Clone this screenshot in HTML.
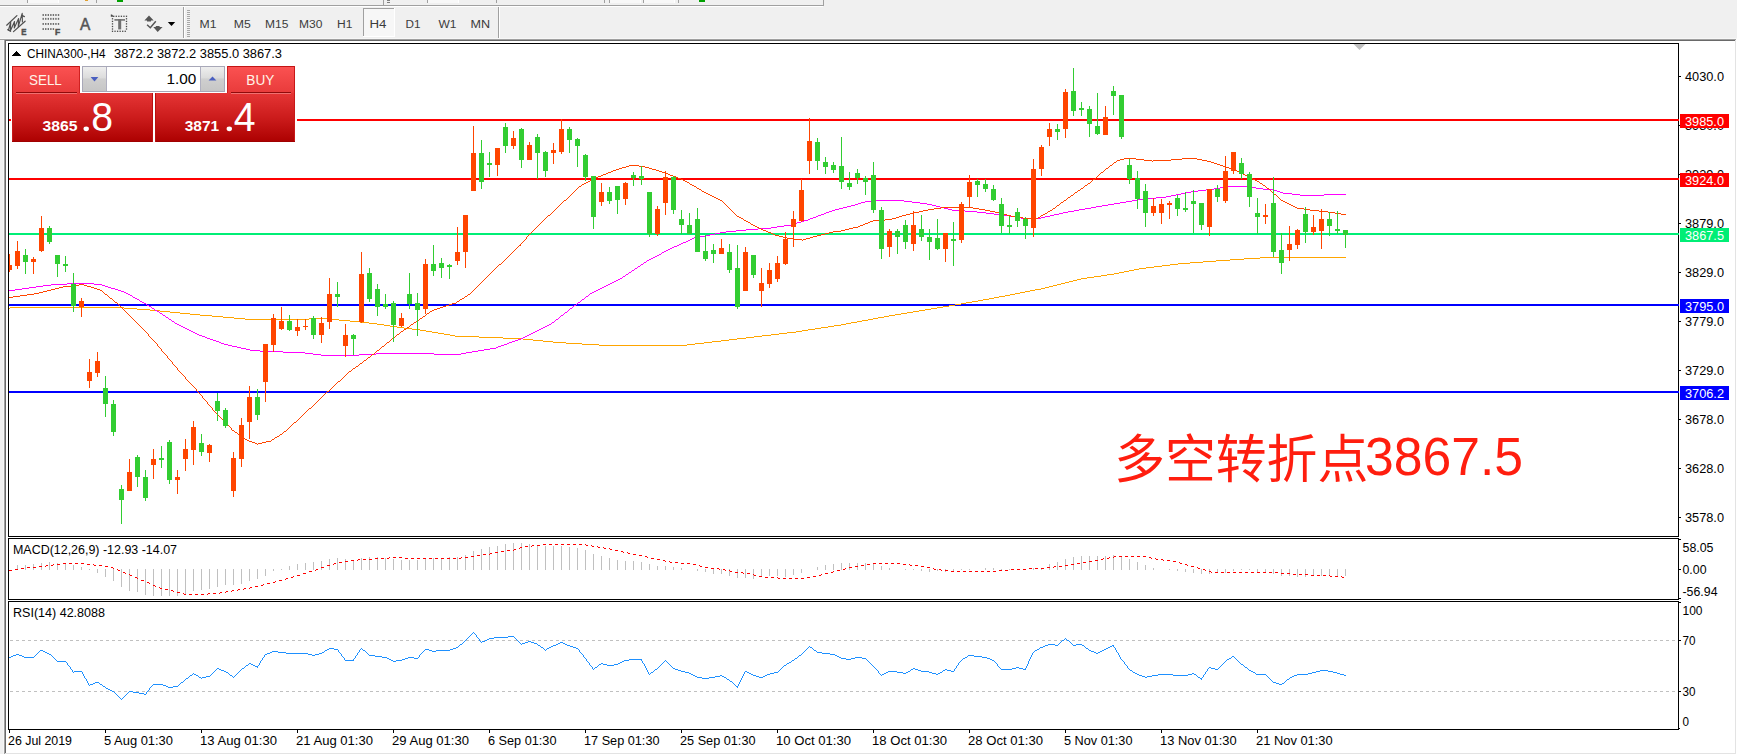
<!DOCTYPE html>
<html lang="zh"><head><meta charset="utf-8"><title>CHINA300-,H4</title>
<style>
html,body{margin:0;padding:0;background:#f0f0f0;overflow:hidden}
body{width:1737px;height:754px}
svg{display:block;font-family:"Liberation Sans","Noto Sans CJK SC",sans-serif}
svg rect{shape-rendering:crispEdges}
</style></head><body>
<svg width="1737" height="754" viewBox="0 0 1737 754">
<rect x="0" y="0" width="1737" height="754" fill="#f0f0f0"/>
<g id="topstrip">
<rect x="0" y="5" width="824" height="1" fill="#a0a0a0"/>
<rect x="0" y="6" width="823" height="1" fill="#ffffff"/>
<rect x="823" y="0" width="1" height="6" fill="#a0a0a0"/>
<rect x="27" y="0" width="31" height="3" fill="#f8f8f8"/>
<rect x="27" y="0" width="1" height="3" fill="#a0a0a0"/>
<rect x="58" y="0" width="1" height="3" fill="#ffffff"/>
<rect x="427" y="0" width="31" height="3" fill="#f8f8f8"/>
<rect x="427" y="0" width="1" height="3" fill="#a0a0a0"/>
<rect x="458" y="0" width="1" height="3" fill="#ffffff"/>
<rect x="609" y="0" width="31" height="3" fill="#f8f8f8"/>
<rect x="609" y="0" width="1" height="3" fill="#a0a0a0"/>
<rect x="640" y="0" width="1" height="3" fill="#ffffff"/>
<rect x="643" y="0" width="31" height="3" fill="#f8f8f8"/>
<rect x="643" y="0" width="1" height="3" fill="#a0a0a0"/>
<rect x="674" y="0" width="1" height="3" fill="#ffffff"/>
<rect x="96" y="0" width="1" height="3" fill="#a0a0a0"/>
<rect x="383" y="0" width="1" height="5" fill="#a0a0a0"/>
<rect x="496" y="0" width="1" height="3" fill="#a0a0a0"/>
<rect x="604" y="0" width="1" height="3" fill="#a0a0a0"/>
<rect x="678" y="0" width="1" height="3" fill="#a0a0a0"/>
<rect x="387" y="0" width="3" height="1" fill="#808080"/>
<rect x="387" y="2" width="3" height="1" fill="#808080"/>
<rect x="117" y="0" width="6" height="2" fill="#00a000"/>
<rect x="699" y="0" width="6" height="2" fill="#00a000"/>
<rect x="85" y="0" width="3" height="1" fill="#e0a030"/>
</g>
<g id="toolbar">
<g stroke="#505050" fill="none" stroke-linecap="round" stroke-linejoin="round"><path d="M6.7 25.2 L16.9 15.6" stroke-width="1.25"/><path d="M13.5 31.6 L25.1 21.2" stroke-width="1.25"/><path d="M8.4 30.1 L10.7 22.4 L10.3 31.1 L14.5 21.6 L14.3 27.9 L18.6 18.6 L18.3 26.7 L22.2 13.3 L22.4 22" stroke-width="1.15"/><path d="M7.8 29.6 L10.6 31.2" stroke-width="1.3"/><path d="M21.8 15.4 L24.4 16.6" stroke-width="1.3"/></g>
<text x="21.2" y="34.7" font-size="9" fill="#505050" textLength="5.2" lengthAdjust="spacingAndGlyphs" font-weight="bold" stroke="#505050" stroke-width="0.5">E</text>
<rect x="42.50" y="14.05" width="1.4" height="1.9" fill="#6a6a6a" shape-rendering="auto" style="shape-rendering:auto"/>
<rect x="45.05" y="14.05" width="1.4" height="1.9" fill="#6a6a6a" shape-rendering="auto" style="shape-rendering:auto"/>
<rect x="47.60" y="14.05" width="1.4" height="1.9" fill="#6a6a6a" shape-rendering="auto" style="shape-rendering:auto"/>
<rect x="50.15" y="14.05" width="1.4" height="1.9" fill="#6a6a6a" shape-rendering="auto" style="shape-rendering:auto"/>
<rect x="52.70" y="14.05" width="1.4" height="1.9" fill="#6a6a6a" shape-rendering="auto" style="shape-rendering:auto"/>
<rect x="55.25" y="14.05" width="1.4" height="1.9" fill="#6a6a6a" shape-rendering="auto" style="shape-rendering:auto"/>
<rect x="57.80" y="14.05" width="1.4" height="1.9" fill="#6a6a6a" shape-rendering="auto" style="shape-rendering:auto"/>
<rect x="42.50" y="17.90" width="1.4" height="1.9" fill="#6a6a6a" shape-rendering="auto" style="shape-rendering:auto"/>
<rect x="45.05" y="17.90" width="1.4" height="1.9" fill="#6a6a6a" shape-rendering="auto" style="shape-rendering:auto"/>
<rect x="47.60" y="17.90" width="1.4" height="1.9" fill="#6a6a6a" shape-rendering="auto" style="shape-rendering:auto"/>
<rect x="50.15" y="17.90" width="1.4" height="1.9" fill="#6a6a6a" shape-rendering="auto" style="shape-rendering:auto"/>
<rect x="52.70" y="17.90" width="1.4" height="1.9" fill="#6a6a6a" shape-rendering="auto" style="shape-rendering:auto"/>
<rect x="55.25" y="17.90" width="1.4" height="1.9" fill="#6a6a6a" shape-rendering="auto" style="shape-rendering:auto"/>
<rect x="57.80" y="17.90" width="1.4" height="1.9" fill="#6a6a6a" shape-rendering="auto" style="shape-rendering:auto"/>
<rect x="42.50" y="23.00" width="1.4" height="1.9" fill="#6a6a6a" shape-rendering="auto" style="shape-rendering:auto"/>
<rect x="45.05" y="23.00" width="1.4" height="1.9" fill="#6a6a6a" shape-rendering="auto" style="shape-rendering:auto"/>
<rect x="47.60" y="23.00" width="1.4" height="1.9" fill="#6a6a6a" shape-rendering="auto" style="shape-rendering:auto"/>
<rect x="50.15" y="23.00" width="1.4" height="1.9" fill="#6a6a6a" shape-rendering="auto" style="shape-rendering:auto"/>
<rect x="52.70" y="23.00" width="1.4" height="1.9" fill="#6a6a6a" shape-rendering="auto" style="shape-rendering:auto"/>
<rect x="55.25" y="23.00" width="1.4" height="1.9" fill="#6a6a6a" shape-rendering="auto" style="shape-rendering:auto"/>
<rect x="57.80" y="23.00" width="1.4" height="1.9" fill="#6a6a6a" shape-rendering="auto" style="shape-rendering:auto"/>
<rect x="42.50" y="28.10" width="1.4" height="1.9" fill="#6a6a6a" shape-rendering="auto" style="shape-rendering:auto"/>
<rect x="45.05" y="28.10" width="1.4" height="1.9" fill="#6a6a6a" shape-rendering="auto" style="shape-rendering:auto"/>
<rect x="47.60" y="28.10" width="1.4" height="1.9" fill="#6a6a6a" shape-rendering="auto" style="shape-rendering:auto"/>
<rect x="50.15" y="28.10" width="1.4" height="1.9" fill="#6a6a6a" shape-rendering="auto" style="shape-rendering:auto"/>
<rect x="52.70" y="28.10" width="1.4" height="1.9" fill="#6a6a6a" shape-rendering="auto" style="shape-rendering:auto"/>
<text x="55" y="34.7" font-size="9" fill="#505050" textLength="5.2" lengthAdjust="spacingAndGlyphs" font-weight="bold" stroke="#505050" stroke-width="0.5">F</text>
<text x="80" y="29.6" font-size="15.8" fill="#555" textLength="10.3" lengthAdjust="spacingAndGlyphs" stroke="#555" stroke-width="0.5">A</text>
<rect x="125.85" y="15.65" width="1.3" height="1.3" fill="#484848" style="shape-rendering:auto"/>
<rect x="123.30" y="15.65" width="1.3" height="1.3" fill="#484848" style="shape-rendering:auto"/>
<rect x="120.75" y="15.65" width="1.3" height="1.3" fill="#484848" style="shape-rendering:auto"/>
<rect x="118.20" y="15.65" width="1.3" height="1.3" fill="#484848" style="shape-rendering:auto"/>
<rect x="115.65" y="15.65" width="1.3" height="1.3" fill="#484848" style="shape-rendering:auto"/>
<rect x="113.10" y="15.65" width="1.3" height="1.3" fill="#484848" style="shape-rendering:auto"/>
<rect x="111.85" y="30.65" width="1.3" height="1.3" fill="#484848" style="shape-rendering:auto"/>
<rect x="114.40" y="30.65" width="1.3" height="1.3" fill="#484848" style="shape-rendering:auto"/>
<rect x="116.95" y="30.65" width="1.3" height="1.3" fill="#484848" style="shape-rendering:auto"/>
<rect x="119.50" y="30.65" width="1.3" height="1.3" fill="#484848" style="shape-rendering:auto"/>
<rect x="122.05" y="30.65" width="1.3" height="1.3" fill="#484848" style="shape-rendering:auto"/>
<rect x="124.60" y="30.65" width="1.3" height="1.3" fill="#484848" style="shape-rendering:auto"/>
<rect x="111.85" y="18.15" width="1.3" height="1.3" fill="#484848" style="shape-rendering:auto"/>
<rect x="125.85" y="18.15" width="1.3" height="1.3" fill="#484848" style="shape-rendering:auto"/>
<rect x="111.85" y="20.75" width="1.3" height="1.3" fill="#484848" style="shape-rendering:auto"/>
<rect x="125.85" y="20.75" width="1.3" height="1.3" fill="#484848" style="shape-rendering:auto"/>
<rect x="111.85" y="23.25" width="1.3" height="1.3" fill="#484848" style="shape-rendering:auto"/>
<rect x="125.85" y="23.25" width="1.3" height="1.3" fill="#484848" style="shape-rendering:auto"/>
<rect x="111.85" y="25.85" width="1.3" height="1.3" fill="#484848" style="shape-rendering:auto"/>
<rect x="125.85" y="25.85" width="1.3" height="1.3" fill="#484848" style="shape-rendering:auto"/>
<rect x="111.85" y="28.35" width="1.3" height="1.3" fill="#484848" style="shape-rendering:auto"/>
<rect x="125.85" y="28.35" width="1.3" height="1.3" fill="#484848" style="shape-rendering:auto"/>
<path d="M110.8 16.8 L110.8 14.6 L112 14.4 L113.9 16.8 Z" fill="#484848"/>
<rect x="114.4" y="19.1" width="10.6" height="1.6" fill="#707070" style="shape-rendering:auto"/>
<rect x="118.2" y="19.1" width="3" height="10.3" fill="#707070" style="shape-rendering:auto"/>
<g fill="#555"><path d="M149 15.4 L153.7 20.4 L151 20.4 L151 21.6 L147 21.6 L147 20.4 L144.4 20.4 Z"/><path d="M157.7 32 L153.3 27 L155.8 27 L155.8 26 L159.6 26 L159.6 27 L162.6 27 Z"/></g>
<path d="M147.1 24.8 L150.3 27.7 L155.8 21.2" stroke="#555" stroke-width="1.5" fill="none"/>
<path d="M167.8 22 L175.2 22 L171.5 25.9 Z" fill="#000"/>
<rect x="183" y="7" width="1" height="32" fill="#a0a0a0"/>
<rect x="184" y="7" width="1" height="32" fill="#ffffff"/>
<rect x="187" y="10" width="3" height="1" fill="#a8a8a8"/>
<rect x="187" y="12" width="3" height="1" fill="#a8a8a8"/>
<rect x="187" y="14" width="3" height="1" fill="#a8a8a8"/>
<rect x="187" y="16" width="3" height="1" fill="#a8a8a8"/>
<rect x="187" y="18" width="3" height="1" fill="#a8a8a8"/>
<rect x="187" y="20" width="3" height="1" fill="#a8a8a8"/>
<rect x="187" y="22" width="3" height="1" fill="#a8a8a8"/>
<rect x="187" y="24" width="3" height="1" fill="#a8a8a8"/>
<rect x="187" y="26" width="3" height="1" fill="#a8a8a8"/>
<rect x="187" y="28" width="3" height="1" fill="#a8a8a8"/>
<rect x="187" y="30" width="3" height="1" fill="#a8a8a8"/>
<rect x="187" y="32" width="3" height="1" fill="#a8a8a8"/>
<rect x="187" y="34" width="3" height="1" fill="#a8a8a8"/>
<rect x="187" y="36" width="3" height="1" fill="#a8a8a8"/>
<rect x="363" y="8" width="32" height="29" fill="#f7f7f7"/>
<rect x="363" y="8" width="32" height="1" fill="#a0a0a0"/>
<rect x="363" y="8" width="1" height="29" fill="#a0a0a0"/>
<rect x="394" y="8" width="1" height="29" fill="#ffffff"/>
<rect x="363" y="36" width="32" height="1" fill="#ffffff"/>
<text x="199.5" y="28.1" font-size="11.7" fill="#3c3c3c" textLength="17" lengthAdjust="spacingAndGlyphs">M1</text>
<text x="233.8" y="28.1" font-size="11.7" fill="#3c3c3c" textLength="17.0" lengthAdjust="spacingAndGlyphs">M5</text>
<text x="265.1" y="28.1" font-size="11.7" fill="#3c3c3c" textLength="23.4" lengthAdjust="spacingAndGlyphs">M15</text>
<text x="299.1" y="28.1" font-size="11.7" fill="#3c3c3c" textLength="23.4" lengthAdjust="spacingAndGlyphs">M30</text>
<text x="337.1" y="28.1" font-size="11.7" fill="#3c3c3c" textLength="15.4" lengthAdjust="spacingAndGlyphs">H1</text>
<text x="369.5" y="28.1" font-size="11.7" fill="#3c3c3c" textLength="17" lengthAdjust="spacingAndGlyphs">H4</text>
<text x="405.5" y="28.1" font-size="11.7" fill="#3c3c3c" textLength="15" lengthAdjust="spacingAndGlyphs">D1</text>
<text x="438.5" y="28.1" font-size="11.7" fill="#3c3c3c" textLength="18" lengthAdjust="spacingAndGlyphs">W1</text>
<text x="470.5" y="28.1" font-size="11.7" fill="#3c3c3c" textLength="19.6" lengthAdjust="spacingAndGlyphs">MN</text>
<rect x="498" y="7" width="1" height="32" fill="#a0a0a0"/>
<rect x="499" y="7" width="1" height="32" fill="#ffffff"/>
</g>
<rect x="0" y="38" width="1737" height="1" fill="#f7f7f7"/>
<rect x="0" y="39" width="4" height="1" fill="#a0a0a0"/>
<rect x="3" y="40" width="1" height="714" fill="#f6f6f6"/>
<rect x="4" y="39" width="1732" height="715" fill="#ffffff"/>
<rect x="4" y="39" width="1732" height="1" fill="#a0a0a0"/>
<rect x="4" y="39" width="1" height="715" fill="#a0a0a0"/>
<rect x="5" y="40" width="1730" height="1" fill="#696969"/>
<rect x="5" y="40" width="1" height="714" fill="#696969"/>
<rect x="1735" y="40" width="1" height="714" fill="#e3e3e3"/>
<rect x="1736" y="39" width="1" height="715" fill="#ffffff"/>
<rect x="5" y="753" width="1731" height="1" fill="#e3e3e3"/>
<rect x="8" y="43" width="1671" height="1" fill="#000"/>
<rect x="8" y="536" width="1671" height="1" fill="#000"/>
<rect x="8" y="43" width="1" height="494" fill="#000"/>
<rect x="1678" y="43" width="1" height="494" fill="#000"/>
<rect x="8" y="538" width="1671" height="1" fill="#000"/>
<rect x="8" y="599" width="1671" height="1" fill="#000"/>
<rect x="8" y="538" width="1" height="62" fill="#000"/>
<rect x="1678" y="538" width="1" height="62" fill="#000"/>
<rect x="8" y="601" width="1671" height="1" fill="#000"/>
<rect x="8" y="729" width="1671" height="1" fill="#000"/>
<rect x="8" y="601" width="1" height="129" fill="#000"/>
<rect x="1678" y="601" width="1" height="129" fill="#000"/>
<rect x="1679" y="76" width="2" height="1" fill="#000"/>
<text x="1685" y="81" font-size="12" fill="#000" textLength="39" lengthAdjust="spacingAndGlyphs">4030.0</text>
<rect x="1679" y="125" width="2" height="1" fill="#000"/>
<text x="1685" y="130" font-size="12" fill="#000" textLength="39" lengthAdjust="spacingAndGlyphs">3980.0</text>
<rect x="1679" y="174" width="2" height="1" fill="#000"/>
<text x="1685" y="179" font-size="12" fill="#000" textLength="39" lengthAdjust="spacingAndGlyphs">3929.0</text>
<rect x="1679" y="223" width="2" height="1" fill="#000"/>
<text x="1685" y="228" font-size="12" fill="#000" textLength="39" lengthAdjust="spacingAndGlyphs">3879.0</text>
<rect x="1679" y="272" width="2" height="1" fill="#000"/>
<text x="1685" y="277" font-size="12" fill="#000" textLength="39" lengthAdjust="spacingAndGlyphs">3829.0</text>
<rect x="1679" y="321" width="2" height="1" fill="#000"/>
<text x="1685" y="326" font-size="12" fill="#000" textLength="39" lengthAdjust="spacingAndGlyphs">3779.0</text>
<rect x="1679" y="370" width="2" height="1" fill="#000"/>
<text x="1685" y="375" font-size="12" fill="#000" textLength="39" lengthAdjust="spacingAndGlyphs">3729.0</text>
<rect x="1679" y="419" width="2" height="1" fill="#000"/>
<text x="1685" y="424" font-size="12" fill="#000" textLength="39" lengthAdjust="spacingAndGlyphs">3678.0</text>
<rect x="1679" y="468" width="2" height="1" fill="#000"/>
<text x="1685" y="473" font-size="12" fill="#000" textLength="39" lengthAdjust="spacingAndGlyphs">3628.0</text>
<rect x="1679" y="517" width="2" height="1" fill="#000"/>
<text x="1685" y="522" font-size="12" fill="#000" textLength="39" lengthAdjust="spacingAndGlyphs">3578.0</text>
<rect x="9" y="119" width="1670" height="2" fill="#ff0000"/>
<rect x="9" y="178" width="1670" height="2" fill="#ff0000"/>
<rect x="9" y="233" width="1670" height="2" fill="#00ee76"/>
<rect x="9" y="304" width="1670" height="2" fill="#0000ff"/>
<rect x="9" y="391" width="1670" height="2" fill="#0000ff"/>
<path d="M9 308h1v1h-1zM10 307h114v1h-114zM124 308h13v1h-13zM137 309h13v1h-13zM150 310h10v1h-10zM160 311h10v1h-10zM170 312h10v1h-10zM180 313h10v1h-10zM190 314h10v1h-10zM200 315h12v1h-12zM212 316h11v1h-11zM223 317h11v1h-11zM234 318h11v1h-11zM245 319h64v1h-64zM309 318h19v1h-19zM328 319h11v1h-11zM339 320h11v1h-11zM350 321h10v1h-10zM360 322h9v1h-9zM369 323h8v1h-8zM377 324h7v1h-7zM384 325h6v1h-6zM390 326h7v1h-7zM397 327h7v1h-7zM404 328h8v1h-8zM412 329h8v1h-8zM420 330h6v1h-6zM426 331h6v1h-6zM432 332h6v1h-6zM438 333h6v1h-6zM444 334h6v1h-6zM450 335h5v1h-5zM455 336h24v1h-24zM479 337h24v1h-24zM503 338h20v1h-20zM523 339h10v1h-10zM533 340h10v1h-10zM543 341h10v1h-10zM553 342h13v1h-13zM566 343h16v1h-16zM582 344h17v1h-17zM599 345h88v1h-88zM687 344h8v1h-8zM695 343h9v1h-9zM704 342h8v1h-8zM712 341h9v1h-9zM721 340h8v1h-8zM729 339h8v1h-8zM737 338h9v1h-9zM746 337h8v1h-8zM754 336h8v1h-8zM762 335h9v1h-9zM771 334h8v1h-8zM779 333h8v1h-8zM787 332h9v1h-9zM796 331h6v1h-6zM802 330h6v1h-6zM808 329h7v1h-7zM815 328h6v1h-6zM821 327h7v1h-7zM828 326h6v1h-6zM834 325h7v1h-7zM841 324h5v1h-5zM846 323h5v1h-5zM851 322h6v1h-6zM857 321h5v1h-5zM862 320h6v1h-6zM868 319h5v1h-5zM873 318h5v1h-5zM878 317h6v1h-6zM884 316h5v1h-5zM889 315h6v1h-6zM895 314h6v1h-6zM901 313h6v1h-6zM907 312h6v1h-6zM913 311h6v1h-6zM919 310h6v1h-6zM925 309h6v1h-6zM931 308h6v1h-6zM937 307h6v1h-6zM943 306h6v1h-6zM949 305h6v1h-6zM955 304h6v1h-6zM961 303h5v1h-5zM966 302h6v1h-6zM972 301h6v1h-6zM978 300h5v1h-5zM983 299h6v1h-6zM989 298h5v1h-5zM994 297h5v1h-5zM999 296h6v1h-6zM1005 295h5v1h-5zM1010 294h5v1h-5zM1015 293h5v1h-5zM1020 292h5v1h-5zM1025 291h5v1h-5zM1030 290h5v1h-5zM1035 289h6v1h-6zM1041 288h4v1h-4zM1045 287h4v1h-4zM1049 286h4v1h-4zM1053 285h4v1h-4zM1057 284h4v1h-4zM1061 283h4v1h-4zM1065 282h4v1h-4zM1069 281h4v1h-4zM1073 280h4v1h-4zM1077 279h4v1h-4zM1081 278h6v1h-6zM1087 277h7v1h-7zM1094 276h7v1h-7zM1101 275h6v1h-6zM1107 274h7v1h-7zM1114 273h5v1h-5zM1119 272h5v1h-5zM1124 271h5v1h-5zM1129 270h5v1h-5zM1134 269h5v1h-5zM1139 268h7v1h-7zM1146 267h8v1h-8zM1154 266h8v1h-8zM1162 265h8v1h-8zM1170 264h8v1h-8zM1178 263h12v1h-12zM1190 262h13v1h-13zM1203 261h13v1h-13zM1216 260h14v1h-14zM1230 259h14v1h-14zM1244 258h16v1h-16zM1260 257h86v1h-86z" fill="#ffa500" shape-rendering="crispEdges"/>
<path d="M9 290h6v1h-6zM15 289h7v1h-7zM22 288h7v1h-7zM29 287h7v1h-7zM36 286h7v1h-7zM43 285h8v1h-8zM51 284h16v1h-16zM67 283h27v1h-27zM94 284h8v1h-8zM102 285h3v1h-3zM105 286h3v1h-3zM108 287h3v1h-3zM111 288h4v1h-4zM115 289h3v1h-3zM118 290h3v1h-3zM121 291h3v1h-3zM124 292h2v1h-2zM126 293h2v1h-2zM128 294h2v1h-2zM130 295h2v1h-2zM132 296h1v1h-1zM133 297h2v1h-2zM135 298h2v1h-2zM137 299h2v1h-2zM139 300h1v1h-1zM140 301h2v1h-2zM142 302h2v1h-2zM144 303h2v1h-2zM146 304h1v1h-1zM147 305h2v1h-2zM149 306h2v1h-2zM151 307h1v1h-1zM152 308h2v1h-2zM154 309h1v1h-1zM155 310h2v1h-2zM157 311h2v1h-2zM159 312h1v1h-1zM160 313h2v1h-2zM162 314h1v1h-1zM163 315h2v1h-2zM165 316h1v1h-1zM166 317h2v1h-2zM168 318h1v1h-1zM169 319h2v1h-2zM171 320h1v1h-1zM172 321h2v1h-2zM174 322h1v1h-1zM175 323h2v1h-2zM177 324h2v1h-2zM179 325h2v1h-2zM181 326h2v1h-2zM183 327h2v1h-2zM185 328h2v1h-2zM187 329h2v1h-2zM189 330h2v1h-2zM191 331h2v1h-2zM193 332h2v1h-2zM195 333h2v1h-2zM197 334h2v1h-2zM199 335h3v1h-3zM202 336h3v1h-3zM205 337h2v1h-2zM207 338h3v1h-3zM210 339h3v1h-3zM213 340h3v1h-3zM216 341h3v1h-3zM219 342h2v1h-2zM221 343h3v1h-3zM224 344h4v1h-4zM228 345h4v1h-4zM232 346h5v1h-5zM237 347h4v1h-4zM241 348h5v1h-5zM246 349h4v1h-4zM250 350h10v1h-10zM260 351h23v1h-23zM283 352h22v1h-22zM305 353h8v1h-8zM313 354h8v1h-8zM321 355h38v1h-38zM359 354h17v1h-17zM376 353h58v1h-58zM434 354h27v1h-27zM461 353h5v1h-5zM466 352h6v1h-6zM472 351h6v1h-6zM478 350h6v1h-6zM484 349h6v1h-6zM490 348h6v1h-6zM496 347h2v1h-2zM498 346h3v1h-3zM501 345h3v1h-3zM504 344h3v1h-3zM507 343h2v1h-2zM509 342h3v1h-3zM512 341h3v1h-3zM515 340h3v1h-3zM518 339h3v1h-3zM521 338h2v1h-2zM523 337h2v1h-2zM525 336h2v1h-2zM527 335h2v1h-2zM529 334h2v1h-2zM531 333h2v1h-2zM533 332h2v1h-2zM535 331h2v1h-2zM537 330h2v1h-2zM539 329h2v1h-2zM541 328h2v1h-2zM543 327h2v1h-2zM545 326h2v1h-2zM547 325h2v1h-2zM549 324h2v1h-2zM551 323h1v1h-1zM552 322h2v1h-2zM554 321h1v1h-1zM555 320h1v1h-1zM556 319h2v1h-2zM558 318h1v1h-1zM559 317h1v1h-1zM560 316h1v1h-1zM561 315h2v1h-2zM563 314h1v1h-1zM564 313h1v1h-1zM565 312h2v1h-2zM567 311h1v1h-1zM568 310h1v1h-1zM569 309h1v1h-1zM570 308h2v1h-2zM572 307h1v1h-1zM573 306h1v1h-1zM574 305h2v1h-2zM576 304h1v1h-1zM577 303h1v1h-1zM578 302h2v1h-2zM580 301h1v1h-1zM581 300h1v1h-1zM582 299h2v1h-2zM584 298h1v1h-1zM585 297h1v1h-1zM586 296h2v1h-2zM588 295h1v1h-1zM589 294h1v1h-1zM590 293h2v1h-2zM592 292h2v1h-2zM594 291h2v1h-2zM596 290h2v1h-2zM598 289h2v1h-2zM600 288h2v1h-2zM602 287h2v1h-2zM604 286h2v1h-2zM606 285h2v1h-2zM608 284h2v1h-2zM610 283h2v1h-2zM612 282h2v1h-2zM614 281h2v1h-2zM616 280h2v1h-2zM618 279h2v1h-2zM620 278h2v1h-2zM622 277h1v1h-1zM623 276h2v1h-2zM625 275h1v1h-1zM626 274h2v1h-2zM628 273h1v1h-1zM629 272h2v1h-2zM631 271h1v1h-1zM632 270h2v1h-2zM634 269h1v1h-1zM635 268h2v1h-2zM637 267h1v1h-1zM638 266h2v1h-2zM640 265h1v1h-1zM641 264h2v1h-2zM643 263h1v1h-1zM644 262h2v1h-2zM646 261h1v1h-1zM647 260h2v1h-2zM649 259h2v1h-2zM651 258h2v1h-2zM653 257h2v1h-2zM655 256h2v1h-2zM657 255h2v1h-2zM659 254h2v1h-2zM661 253h1v1h-1zM662 252h2v1h-2zM664 251h2v1h-2zM666 250h2v1h-2zM668 249h2v1h-2zM670 248h2v1h-2zM672 247h2v1h-2zM674 246h3v1h-3zM677 245h2v1h-2zM679 244h2v1h-2zM681 243h2v1h-2zM683 242h3v1h-3zM686 241h2v1h-2zM688 240h2v1h-2zM690 239h2v1h-2zM692 238h2v1h-2zM694 237h5v1h-5zM699 236h6v1h-6zM705 235h5v1h-5zM710 234h5v1h-5zM715 233h5v1h-5zM720 232h6v1h-6zM726 231h10v1h-10zM736 230h10v1h-10zM746 229h12v1h-12zM758 228h13v1h-13zM771 227h6v1h-6zM777 226h7v1h-7zM784 225h7v1h-7zM791 224h3v1h-3zM794 223h3v1h-3zM797 222h4v1h-4zM801 221h3v1h-3zM804 220h4v1h-4zM808 219h2v1h-2zM810 218h3v1h-3zM813 217h3v1h-3zM816 216h2v1h-2zM818 215h3v1h-3zM821 214h3v1h-3zM824 213h2v1h-2zM826 212h3v1h-3zM829 211h3v1h-3zM832 210h3v1h-3zM835 209h4v1h-4zM839 208h4v1h-4zM843 207h4v1h-4zM847 206h4v1h-4zM851 205h4v1h-4zM855 204h3v1h-3zM858 203h3v1h-3zM861 202h4v1h-4zM865 201h9v1h-9zM874 200h30v1h-30zM904 201h8v1h-8zM912 202h8v1h-8zM920 203h7v1h-7zM927 204h5v1h-5zM932 205h4v1h-4zM936 206h4v1h-4zM940 207h4v1h-4zM944 208h4v1h-4zM948 209h4v1h-4zM952 210h13v1h-13zM965 211h12v1h-12zM977 212h9v1h-9zM986 213h8v1h-8zM994 214h8v1h-8zM1002 215h7v1h-7zM1009 216h6v1h-6zM1015 217h6v1h-6zM1021 218h6v1h-6zM1027 219h1v1h-1zM1028 218h13v1h-13zM1041 217h4v1h-4zM1045 216h5v1h-5zM1050 215h4v1h-4zM1054 214h5v1h-5zM1059 213h4v1h-4zM1063 212h5v1h-5zM1068 211h6v1h-6zM1074 210h5v1h-5zM1079 209h6v1h-6zM1085 208h6v1h-6zM1091 207h5v1h-5zM1096 206h6v1h-6zM1102 205h6v1h-6zM1108 204h6v1h-6zM1114 203h6v1h-6zM1120 202h6v1h-6zM1126 201h6v1h-6zM1132 200h6v1h-6zM1138 199h8v1h-8zM1146 198h10v1h-10zM1156 197h10v1h-10zM1166 196h5v1h-5zM1171 195h5v1h-5zM1176 194h5v1h-5zM1181 193h5v1h-5zM1186 192h5v1h-5zM1191 191h7v1h-7zM1198 190h8v1h-8zM1206 189h8v1h-8zM1214 188h6v1h-6zM1220 187h6v1h-6zM1226 186h25v1h-25zM1251 187h5v1h-5zM1256 188h7v1h-7zM1263 189h11v1h-11zM1274 190h3v1h-3zM1277 191h3v1h-3zM1280 192h3v1h-3zM1283 193h9v1h-9zM1292 194h8v1h-8zM1300 195h24v1h-24zM1324 194h22v1h-22z" fill="#ff00ff" shape-rendering="crispEdges"/>
<path d="M9 297h4v1h-4zM13 296h7v1h-7zM20 295h7v1h-7zM27 294h7v1h-7zM34 293h5v1h-5zM39 292h4v1h-4zM43 291h4v1h-4zM47 290h4v1h-4zM51 289h4v1h-4zM55 288h4v1h-4zM59 287h4v1h-4zM63 286h8v1h-8zM71 285h8v1h-8zM79 284h5v1h-5zM84 285h3v1h-3zM87 286h4v1h-4zM91 287h3v1h-3zM94 288h3v1h-3zM97 289h3v1h-3zM100 290h2v1h-2zM102 291h1v1h-1zM103 292h1v1h-1zM104 293h1v1h-1zM105 294h2v1h-2zM107 295h1v1h-1zM108 296h1v1h-1zM109 297h1v1h-1zM110 298h2v1h-2zM112 299h1v1h-1zM113 300h1v1h-1zM114 301h1v1h-1zM115 302h2v1h-2zM117 303h1v1h-1zM118 304h1v1h-1zM119 305h1v1h-1zM120 306h1v1h-1zM121 307h1v1h-1zM122 308h1v1h-1zM123 309h1v1h-1zM124 310h1v1h-1zM125 311h1v1h-1zM126 312h1v1h-1zM127 313h1v1h-1zM128 314h1v1h-1zM129 315h1v1h-1zM130 316h1v1h-1zM131 317h1v1h-1zM132 318h1v1h-1zM133 319h1v1h-1zM134 320h1v1h-1zM135 321h1v1h-1zM136 322h1v1h-1zM137 323h1v1h-1zM138 324h1v1h-1zM139 325h1v1h-1zM140 326h1v1h-1zM141 327h1v1h-1zM142 328h1v1h-1zM143 329h1v1h-1zM144 330h1v1h-1zM145 331h1v1h-1zM146 332h1v1h-1zM147 333h1v1h-1zM148 334h1v2h-1zM149 336h1v1h-1zM150 337h1v1h-1zM151 338h1v1h-1zM152 339h1v1h-1zM153 340h1v1h-1zM154 341h1v1h-1zM155 342h1v1h-1zM156 343h1v1h-1zM157 344h1v2h-1zM158 346h1v1h-1zM159 347h1v1h-1zM160 348h1v1h-1zM161 349h1v2h-1zM162 351h1v1h-1zM163 352h1v1h-1zM164 353h1v1h-1zM165 354h1v1h-1zM166 355h1v1h-1zM167 356h1v2h-1zM168 358h1v1h-1zM169 359h1v1h-1zM170 360h1v1h-1zM171 361h1v1h-1zM172 362h1v2h-1zM173 364h1v1h-1zM174 365h1v1h-1zM175 366h1v1h-1zM176 367h1v1h-1zM177 368h1v2h-1zM178 370h1v1h-1zM179 371h1v1h-1zM180 372h1v1h-1zM181 373h1v1h-1zM182 374h1v1h-1zM183 375h1v1h-1zM184 376h1v1h-1zM185 377h1v2h-1zM186 379h1v1h-1zM187 380h1v1h-1zM188 381h1v1h-1zM189 382h1v1h-1zM190 383h1v1h-1zM191 384h1v1h-1zM192 385h1v1h-1zM193 386h1v1h-1zM194 387h1v1h-1zM195 388h1v1h-1zM196 389h1v2h-1zM197 391h1v1h-1zM198 392h1v1h-1zM199 393h1v1h-1zM200 394h1v1h-1zM201 395h1v1h-1zM202 396h1v2h-1zM203 398h1v1h-1zM204 399h1v1h-1zM205 400h1v1h-1zM206 401h1v1h-1zM207 402h1v2h-1zM208 404h1v1h-1zM209 405h1v1h-1zM210 406h1v1h-1zM211 407h1v1h-1zM212 408h1v2h-1zM213 410h1v1h-1zM214 411h1v1h-1zM215 412h1v1h-1zM216 413h1v1h-1zM217 414h1v1h-1zM218 415h1v1h-1zM219 416h1v1h-1zM220 417h1v1h-1zM221 418h1v1h-1zM222 419h1v1h-1zM223 420h1v1h-1zM224 421h1v1h-1zM225 422h1v1h-1zM226 423h1v1h-1zM227 424h1v1h-1zM228 425h1v1h-1zM229 426h1v1h-1zM230 427h1v1h-1zM231 428h1v2h-1zM232 430h2v1h-2zM234 431h1v1h-1zM235 432h2v1h-2zM237 433h1v1h-1zM238 434h1v1h-1zM239 435h2v1h-2zM241 436h1v1h-1zM242 437h1v1h-1zM243 438h2v1h-2zM245 439h2v1h-2zM247 440h2v1h-2zM249 441h3v1h-3zM252 442h3v1h-3zM255 443h2v1h-2zM257 444h1v1h-1zM258 443h4v1h-4zM262 442h4v1h-4zM266 441h5v1h-5zM271 440h1v1h-1zM272 439h2v1h-2zM274 438h1v1h-1zM275 437h2v1h-2zM277 436h2v1h-2zM279 435h1v1h-1zM280 434h2v1h-2zM282 433h1v1h-1zM283 432h1v1h-1zM284 431h2v1h-2zM286 430h1v1h-1zM287 429h1v1h-1zM288 428h1v1h-1zM289 427h1v1h-1zM290 426h1v1h-1zM291 425h1v1h-1zM292 424h1v1h-1zM293 423h1v1h-1zM294 422h2v1h-2zM296 421h1v1h-1zM297 420h1v1h-1zM298 419h1v1h-1zM299 418h1v1h-1zM300 417h1v1h-1zM301 416h1v1h-1zM302 415h1v1h-1zM303 414h1v1h-1zM304 413h1v1h-1zM305 412h1v1h-1zM306 411h1v1h-1zM307 410h1v1h-1zM308 409h1v1h-1zM309 408h2v1h-2zM311 407h1v1h-1zM312 406h1v1h-1zM313 405h1v1h-1zM314 404h1v1h-1zM315 403h1v1h-1zM316 402h1v1h-1zM317 401h1v1h-1zM318 400h1v1h-1zM319 399h1v1h-1zM320 398h1v1h-1zM321 397h1v1h-1zM322 396h1v1h-1zM323 395h1v1h-1zM324 394h1v1h-1zM325 393h1v1h-1zM326 392h1v1h-1zM327 391h2v1h-2zM329 390h1v1h-1zM330 389h1v1h-1zM331 388h1v1h-1zM332 387h1v1h-1zM333 386h1v1h-1zM334 385h1v1h-1zM335 384h1v1h-1zM336 383h1v1h-1zM337 382h1v1h-1zM338 381h2v1h-2zM340 380h1v1h-1zM341 379h1v1h-1zM342 378h1v1h-1zM343 377h1v1h-1zM344 376h1v1h-1zM345 375h1v1h-1zM346 374h1v1h-1zM347 373h1v1h-1zM348 372h1v1h-1zM349 371h2v1h-2zM351 370h1v1h-1zM352 369h1v1h-1zM353 368h2v1h-2zM355 367h1v1h-1zM356 366h2v1h-2zM358 365h1v1h-1zM359 364h1v1h-1zM360 363h2v1h-2zM362 362h1v1h-1zM363 361h1v1h-1zM364 360h2v1h-2zM366 359h1v1h-1zM367 358h1v1h-1zM368 357h2v1h-2zM370 356h1v1h-1zM371 355h1v1h-1zM372 354h2v1h-2zM374 353h1v1h-1zM375 352h1v1h-1zM376 351h1v1h-1zM377 350h2v1h-2zM379 349h1v1h-1zM380 348h1v1h-1zM381 347h1v1h-1zM382 346h2v1h-2zM384 345h1v1h-1zM385 344h1v1h-1zM386 343h1v1h-1zM387 342h2v1h-2zM389 341h1v1h-1zM390 340h1v1h-1zM391 339h1v1h-1zM392 338h2v1h-2zM394 337h1v1h-1zM395 336h1v1h-1zM396 335h1v1h-1zM397 334h2v1h-2zM399 333h1v1h-1zM400 332h1v1h-1zM401 331h2v1h-2zM403 330h1v1h-1zM404 329h2v1h-2zM406 328h1v1h-1zM407 327h2v1h-2zM409 326h1v1h-1zM410 325h1v1h-1zM411 324h2v1h-2zM413 323h1v1h-1zM414 322h2v1h-2zM416 321h1v1h-1zM417 320h2v1h-2zM419 319h1v1h-1zM420 318h2v1h-2zM422 317h1v1h-1zM423 316h2v1h-2zM425 315h1v1h-1zM426 314h1v1h-1zM427 313h2v1h-2zM429 312h1v1h-1zM430 311h2v1h-2zM432 310h2v1h-2zM434 309h3v1h-3zM437 308h3v1h-3zM440 307h3v1h-3zM443 306h3v1h-3zM446 305h3v1h-3zM449 304h3v1h-3zM452 303h4v1h-4zM456 302h1v1h-1zM457 301h2v1h-2zM459 300h1v1h-1zM460 299h2v1h-2zM462 298h2v1h-2zM464 297h1v1h-1zM465 296h2v1h-2zM467 295h1v1h-1zM468 294h2v1h-2zM470 293h1v1h-1zM471 292h1v1h-1zM472 291h1v1h-1zM473 290h1v1h-1zM474 289h1v1h-1zM475 288h1v1h-1zM476 287h1v1h-1zM477 286h1v1h-1zM478 285h1v1h-1zM479 284h1v1h-1zM480 283h1v1h-1zM481 282h1v1h-1zM482 281h1v1h-1zM483 280h1v1h-1zM484 279h1v1h-1zM485 278h1v1h-1zM486 277h1v1h-1zM487 276h1v1h-1zM488 275h1v1h-1zM489 274h1v1h-1zM490 273h1v1h-1zM491 272h1v1h-1zM492 271h1v1h-1zM493 270h1v1h-1zM494 269h1v1h-1zM495 268h1v1h-1zM496 267h1v1h-1zM497 266h1v1h-1zM498 265h1v1h-1zM499 264h2v1h-2zM501 263h1v1h-1zM502 262h1v1h-1zM503 261h1v1h-1zM504 260h1v1h-1zM505 259h1v1h-1zM506 258h1v1h-1zM507 257h1v1h-1zM508 256h1v1h-1zM509 255h1v1h-1zM510 254h1v1h-1zM511 253h1v1h-1zM512 252h1v1h-1zM513 251h1v1h-1zM514 250h1v1h-1zM515 249h1v1h-1zM516 248h1v1h-1zM517 247h1v1h-1zM518 246h1v1h-1zM519 245h1v1h-1zM520 244h1v2h-1zM521 243h1v1h-1zM522 242h1v1h-1zM523 241h1v1h-1zM524 240h1v1h-1zM525 239h1v1h-1zM526 237h1v2h-1zM527 236h1v1h-1zM528 235h1v1h-1zM529 234h1v1h-1zM530 233h1v1h-1zM531 232h1v1h-1zM532 231h1v1h-1zM533 230h1v1h-1zM534 229h1v1h-1zM535 228h1v1h-1zM536 227h1v1h-1zM537 226h1v1h-1zM538 225h1v1h-1zM539 224h1v1h-1zM540 223h1v1h-1zM541 222h1v1h-1zM542 221h1v1h-1zM543 220h1v1h-1zM544 219h1v1h-1zM545 218h1v1h-1zM546 217h1v1h-1zM547 216h1v1h-1zM548 215h2v1h-2zM550 214h1v1h-1zM551 213h1v1h-1zM552 212h1v1h-1zM553 211h1v1h-1zM554 210h1v1h-1zM555 209h1v1h-1zM556 208h1v1h-1zM557 207h1v1h-1zM558 206h1v1h-1zM559 205h1v1h-1zM560 204h1v1h-1zM561 203h1v1h-1zM562 202h1v1h-1zM563 201h1v1h-1zM564 200h2v1h-2zM566 199h1v1h-1zM567 198h1v1h-1zM568 197h1v1h-1zM569 196h1v1h-1zM570 195h1v1h-1zM571 194h1v1h-1zM572 193h1v1h-1zM573 192h1v1h-1zM574 191h1v1h-1zM575 190h1v1h-1zM576 189h1v1h-1zM577 188h1v1h-1zM578 187h1v1h-1zM579 186h2v1h-2zM581 185h1v1h-1zM582 184h2v1h-2zM584 183h2v1h-2zM586 182h2v1h-2zM588 181h2v1h-2zM590 180h2v1h-2zM592 179h2v1h-2zM594 178h2v1h-2zM596 177h2v1h-2zM598 176h3v1h-3zM601 175h2v1h-2zM603 174h3v1h-3zM606 173h2v1h-2zM608 172h3v1h-3zM611 171h2v1h-2zM613 170h3v1h-3zM616 169h3v1h-3zM619 168h3v1h-3zM622 167h4v1h-4zM626 166h3v1h-3zM629 165h10v1h-10zM639 166h6v1h-6zM645 167h4v1h-4zM649 168h3v1h-3zM652 169h4v1h-4zM656 170h3v1h-3zM659 171h3v1h-3zM662 172h3v1h-3zM665 173h3v1h-3zM668 174h2v1h-2zM670 175h3v1h-3zM673 176h3v1h-3zM676 177h2v1h-2zM678 178h3v1h-3zM681 179h2v1h-2zM683 180h2v1h-2zM685 181h2v1h-2zM687 182h2v1h-2zM689 183h1v1h-1zM690 184h2v1h-2zM692 185h2v1h-2zM694 186h2v1h-2zM696 187h1v1h-1zM697 188h2v1h-2zM699 189h2v1h-2zM701 190h1v1h-1zM702 191h2v1h-2zM704 192h2v1h-2zM706 193h2v1h-2zM708 194h2v1h-2zM710 195h2v1h-2zM712 196h2v1h-2zM714 197h2v1h-2zM716 198h2v1h-2zM718 199h2v1h-2zM720 200h2v1h-2zM722 201h1v1h-1zM723 202h1v1h-1zM724 203h1v1h-1zM725 204h1v1h-1zM726 205h1v1h-1zM727 206h1v1h-1zM728 207h1v1h-1zM729 208h1v1h-1zM730 209h1v1h-1zM731 210h1v1h-1zM732 211h1v1h-1zM733 212h1v1h-1zM734 213h1v1h-1zM735 214h1v1h-1zM736 215h1v1h-1zM737 216h2v1h-2zM739 217h2v1h-2zM741 218h2v1h-2zM743 219h1v1h-1zM744 220h2v1h-2zM746 221h2v1h-2zM748 222h2v1h-2zM750 223h1v1h-1zM751 224h2v1h-2zM753 225h2v1h-2zM755 226h2v1h-2zM757 227h2v1h-2zM759 228h2v1h-2zM761 229h2v1h-2zM763 230h3v1h-3zM766 231h2v1h-2zM768 232h3v1h-3zM771 233h2v1h-2zM773 234h2v1h-2zM775 235h4v1h-4zM779 236h4v1h-4zM783 237h4v1h-4zM787 238h6v1h-6zM793 239h9v1h-9zM802 240h1v1h-1zM803 239h3v1h-3zM806 238h4v1h-4zM810 237h3v1h-3zM813 236h4v1h-4zM817 235h4v1h-4zM821 234h4v1h-4zM825 233h4v1h-4zM829 232h4v1h-4zM833 231h8v1h-8zM841 230h4v1h-4zM845 229h4v1h-4zM849 228h4v1h-4zM853 227h5v1h-5zM858 226h2v1h-2zM860 225h3v1h-3zM863 224h2v1h-2zM865 223h3v1h-3zM868 222h2v1h-2zM870 221h3v1h-3zM873 220h12v1h-12zM885 219h7v1h-7zM892 218h4v1h-4zM896 217h3v1h-3zM899 216h3v1h-3zM902 215h4v1h-4zM906 214h4v1h-4zM910 213h4v1h-4zM914 212h5v1h-5zM919 211h4v1h-4zM923 210h5v1h-5zM928 209h6v1h-6zM934 208h7v1h-7zM941 207h32v1h-32zM973 208h6v1h-6zM979 209h6v1h-6zM985 210h5v1h-5zM990 211h5v1h-5zM995 212h4v1h-4zM999 213h4v1h-4zM1003 214h4v1h-4zM1007 215h4v1h-4zM1011 216h4v1h-4zM1015 217h8v1h-8zM1023 218h8v1h-8zM1031 219h5v1h-5zM1036 218h2v1h-2zM1038 217h2v1h-2zM1040 216h1v1h-1zM1041 215h2v1h-2zM1043 214h2v1h-2zM1045 213h2v1h-2zM1047 212h1v1h-1zM1048 211h2v1h-2zM1050 210h2v1h-2zM1052 209h1v1h-1zM1053 208h2v1h-2zM1055 207h1v1h-1zM1056 206h1v1h-1zM1057 205h2v1h-2zM1059 204h1v1h-1zM1060 203h1v1h-1zM1061 202h2v1h-2zM1063 201h1v1h-1zM1064 200h2v1h-2zM1066 199h1v1h-1zM1067 198h1v1h-1zM1068 197h2v1h-2zM1070 196h1v1h-1zM1071 195h2v1h-2zM1073 194h1v1h-1zM1074 193h1v1h-1zM1075 192h2v1h-2zM1077 191h1v1h-1zM1078 190h2v1h-2zM1080 189h1v1h-1zM1081 188h2v1h-2zM1083 187h1v1h-1zM1084 186h1v1h-1zM1085 185h2v1h-2zM1087 184h1v1h-1zM1088 183h2v1h-2zM1090 182h1v1h-1zM1091 181h1v1h-1zM1092 180h1v1h-1zM1093 179h2v1h-2zM1095 178h1v1h-1zM1096 177h1v1h-1zM1097 176h1v1h-1zM1098 175h1v1h-1zM1099 174h1v1h-1zM1100 173h1v1h-1zM1101 172h2v1h-2zM1103 171h1v1h-1zM1104 170h1v1h-1zM1105 169h1v1h-1zM1106 168h2v1h-2zM1108 167h1v1h-1zM1109 166h1v1h-1zM1110 165h2v1h-2zM1112 164h1v1h-1zM1113 163h1v1h-1zM1114 162h2v1h-2zM1116 161h1v1h-1zM1117 160h3v1h-3zM1120 159h4v1h-4zM1124 158h12v1h-12zM1136 159h8v1h-8zM1144 160h8v1h-8zM1152 161h1v1h-1zM1153 160h18v1h-18zM1171 159h11v1h-11zM1182 158h15v1h-15zM1197 159h5v1h-5zM1202 160h5v1h-5zM1207 161h4v1h-4zM1211 162h3v1h-3zM1214 163h3v1h-3zM1217 164h3v1h-3zM1220 165h3v1h-3zM1223 166h3v1h-3zM1226 167h3v1h-3zM1229 168h2v1h-2zM1231 169h3v1h-3zM1234 170h3v1h-3zM1237 171h2v1h-2zM1239 172h2v1h-2zM1241 173h2v1h-2zM1243 174h2v1h-2zM1245 175h2v1h-2zM1247 176h2v1h-2zM1249 177h2v1h-2zM1251 178h2v1h-2zM1253 179h2v1h-2zM1255 180h2v1h-2zM1257 181h2v1h-2zM1259 182h1v1h-1zM1260 183h2v1h-2zM1262 184h1v1h-1zM1263 185h2v1h-2zM1265 186h1v1h-1zM1266 187h1v1h-1zM1267 188h2v1h-2zM1269 189h1v1h-1zM1270 190h1v1h-1zM1271 191h1v1h-1zM1272 192h1v1h-1zM1273 193h1v1h-1zM1274 194h2v1h-2zM1276 195h1v1h-1zM1277 196h1v1h-1zM1278 197h1v1h-1zM1279 198h1v1h-1zM1280 199h1v1h-1zM1281 200h2v1h-2zM1283 201h2v1h-2zM1285 202h2v1h-2zM1287 203h2v1h-2zM1289 204h2v1h-2zM1291 205h2v1h-2zM1293 206h2v1h-2zM1295 207h2v1h-2zM1297 208h7v1h-7zM1304 209h6v1h-6zM1310 210h9v1h-9zM1319 211h9v1h-9zM1328 212h7v1h-7zM1335 213h6v1h-6zM1341 214h5v1h-5z" fill="#ff4500" shape-rendering="crispEdges"/>
<g id="candles" shape-rendering="crispEdges">
<rect x="9" y="254" width="1" height="18" fill="#ff4500"/>
<rect x="9" y="265" width="3" height="5" fill="#ff4500"/>
<rect x="17" y="241" width="1" height="28" fill="#ff4500"/>
<rect x="15" y="251" width="5" height="15" fill="#ff4500"/>
<rect x="25" y="249" width="1" height="25" fill="#32cd32"/>
<rect x="23" y="255" width="5" height="7" fill="#32cd32"/>
<rect x="33" y="257" width="1" height="17" fill="#ff4500"/>
<rect x="31" y="259" width="5" height="3" fill="#ff4500"/>
<rect x="41" y="216" width="1" height="36" fill="#ff4500"/>
<rect x="39" y="228" width="5" height="23" fill="#ff4500"/>
<rect x="49" y="226" width="1" height="18" fill="#32cd32"/>
<rect x="47" y="228" width="5" height="14" fill="#32cd32"/>
<rect x="57" y="255" width="1" height="22" fill="#32cd32"/>
<rect x="55" y="255" width="5" height="9" fill="#32cd32"/>
<rect x="65" y="256" width="1" height="16" fill="#32cd32"/>
<rect x="63" y="264" width="5" height="2" fill="#32cd32"/>
<rect x="73" y="273" width="1" height="39" fill="#32cd32"/>
<rect x="71" y="284" width="5" height="22" fill="#32cd32"/>
<rect x="81" y="298" width="1" height="19" fill="#ff4500"/>
<rect x="79" y="301" width="5" height="6" fill="#ff4500"/>
<rect x="89" y="359" width="1" height="29" fill="#ff4500"/>
<rect x="87" y="372" width="5" height="9" fill="#ff4500"/>
<rect x="97" y="352" width="1" height="25" fill="#ff4500"/>
<rect x="95" y="361" width="5" height="12" fill="#ff4500"/>
<rect x="105" y="376" width="1" height="41" fill="#32cd32"/>
<rect x="103" y="388" width="5" height="16" fill="#32cd32"/>
<rect x="113" y="400" width="1" height="36" fill="#32cd32"/>
<rect x="111" y="404" width="5" height="28" fill="#32cd32"/>
<rect x="121" y="485" width="1" height="39" fill="#32cd32"/>
<rect x="119" y="489" width="5" height="11" fill="#32cd32"/>
<rect x="129" y="459" width="1" height="32" fill="#ff4500"/>
<rect x="127" y="472" width="5" height="19" fill="#ff4500"/>
<rect x="137" y="455" width="1" height="32" fill="#32cd32"/>
<rect x="135" y="457" width="5" height="20" fill="#32cd32"/>
<rect x="145" y="470" width="1" height="31" fill="#32cd32"/>
<rect x="143" y="477" width="5" height="21" fill="#32cd32"/>
<rect x="153" y="449" width="1" height="30" fill="#ff4500"/>
<rect x="151" y="459" width="5" height="6" fill="#ff4500"/>
<rect x="161" y="446" width="1" height="22" fill="#32cd32"/>
<rect x="159" y="458" width="5" height="2" fill="#32cd32"/>
<rect x="169" y="440" width="1" height="44" fill="#32cd32"/>
<rect x="167" y="442" width="5" height="38" fill="#32cd32"/>
<rect x="177" y="470" width="1" height="24" fill="#ff4500"/>
<rect x="175" y="477" width="5" height="3" fill="#ff4500"/>
<rect x="185" y="439" width="1" height="32" fill="#ff4500"/>
<rect x="183" y="449" width="5" height="10" fill="#ff4500"/>
<rect x="193" y="421" width="1" height="44" fill="#ff4500"/>
<rect x="191" y="427" width="5" height="23" fill="#ff4500"/>
<rect x="201" y="434" width="1" height="22" fill="#32cd32"/>
<rect x="199" y="443" width="5" height="9" fill="#32cd32"/>
<rect x="209" y="444" width="1" height="18" fill="#ff4500"/>
<rect x="207" y="445" width="5" height="8" fill="#ff4500"/>
<rect x="217" y="393" width="1" height="28" fill="#32cd32"/>
<rect x="215" y="401" width="5" height="10" fill="#32cd32"/>
<rect x="225" y="408" width="1" height="20" fill="#32cd32"/>
<rect x="223" y="410" width="5" height="16" fill="#32cd32"/>
<rect x="233" y="452" width="1" height="45" fill="#ff4500"/>
<rect x="231" y="458" width="5" height="33" fill="#ff4500"/>
<rect x="241" y="418" width="1" height="49" fill="#ff4500"/>
<rect x="239" y="425" width="5" height="34" fill="#ff4500"/>
<rect x="249" y="386" width="1" height="53" fill="#ff4500"/>
<rect x="247" y="397" width="5" height="25" fill="#ff4500"/>
<rect x="257" y="389" width="1" height="31" fill="#32cd32"/>
<rect x="255" y="397" width="5" height="18" fill="#32cd32"/>
<rect x="265" y="344" width="1" height="58" fill="#ff4500"/>
<rect x="263" y="344" width="5" height="38" fill="#ff4500"/>
<rect x="273" y="314" width="1" height="38" fill="#ff4500"/>
<rect x="271" y="318" width="5" height="27" fill="#ff4500"/>
<rect x="281" y="307" width="1" height="23" fill="#ff4500"/>
<rect x="279" y="321" width="5" height="8" fill="#ff4500"/>
<rect x="289" y="315" width="1" height="16" fill="#32cd32"/>
<rect x="287" y="321" width="5" height="9" fill="#32cd32"/>
<rect x="297" y="319" width="1" height="17" fill="#ff4500"/>
<rect x="295" y="327" width="5" height="4" fill="#ff4500"/>
<rect x="305" y="319" width="1" height="11" fill="#ff4500"/>
<rect x="303" y="326" width="5" height="1" fill="#ff4500"/>
<rect x="313" y="316" width="1" height="23" fill="#32cd32"/>
<rect x="311" y="318" width="5" height="17" fill="#32cd32"/>
<rect x="321" y="317" width="1" height="26" fill="#ff4500"/>
<rect x="319" y="323" width="5" height="12" fill="#ff4500"/>
<rect x="329" y="278" width="1" height="51" fill="#ff4500"/>
<rect x="327" y="294" width="5" height="28" fill="#ff4500"/>
<rect x="337" y="282" width="1" height="25" fill="#32cd32"/>
<rect x="335" y="294" width="5" height="3" fill="#32cd32"/>
<rect x="345" y="324" width="1" height="33" fill="#ff4500"/>
<rect x="343" y="335" width="5" height="11" fill="#ff4500"/>
<rect x="353" y="334" width="1" height="21" fill="#32cd32"/>
<rect x="351" y="335" width="5" height="4" fill="#32cd32"/>
<rect x="361" y="252" width="1" height="71" fill="#ff4500"/>
<rect x="359" y="274" width="5" height="48" fill="#ff4500"/>
<rect x="369" y="268" width="1" height="34" fill="#32cd32"/>
<rect x="367" y="273" width="5" height="26" fill="#32cd32"/>
<rect x="377" y="284" width="1" height="32" fill="#32cd32"/>
<rect x="375" y="289" width="5" height="18" fill="#32cd32"/>
<rect x="385" y="294" width="1" height="15" fill="#32cd32"/>
<rect x="383" y="304" width="5" height="3" fill="#32cd32"/>
<rect x="393" y="301" width="1" height="41" fill="#32cd32"/>
<rect x="391" y="303" width="5" height="22" fill="#32cd32"/>
<rect x="401" y="313" width="1" height="14" fill="#ff4500"/>
<rect x="399" y="318" width="5" height="8" fill="#ff4500"/>
<rect x="409" y="273" width="1" height="36" fill="#32cd32"/>
<rect x="407" y="294" width="5" height="10" fill="#32cd32"/>
<rect x="417" y="293" width="1" height="43" fill="#32cd32"/>
<rect x="415" y="303" width="5" height="7" fill="#32cd32"/>
<rect x="425" y="259" width="1" height="55" fill="#ff4500"/>
<rect x="423" y="264" width="5" height="45" fill="#ff4500"/>
<rect x="433" y="245" width="1" height="31" fill="#32cd32"/>
<rect x="431" y="264" width="5" height="7" fill="#32cd32"/>
<rect x="441" y="258" width="1" height="20" fill="#32cd32"/>
<rect x="439" y="263" width="5" height="5" fill="#32cd32"/>
<rect x="449" y="264" width="1" height="15" fill="#32cd32"/>
<rect x="447" y="265" width="5" height="2" fill="#32cd32"/>
<rect x="457" y="227" width="1" height="38" fill="#ff4500"/>
<rect x="455" y="252" width="5" height="9" fill="#ff4500"/>
<rect x="465" y="215" width="1" height="53" fill="#ff4500"/>
<rect x="463" y="215" width="5" height="37" fill="#ff4500"/>
<rect x="473" y="126" width="1" height="65" fill="#ff4500"/>
<rect x="471" y="153" width="5" height="38" fill="#ff4500"/>
<rect x="481" y="140" width="1" height="49" fill="#32cd32"/>
<rect x="479" y="153" width="5" height="29" fill="#32cd32"/>
<rect x="489" y="152" width="1" height="25" fill="#32cd32"/>
<rect x="487" y="163" width="5" height="2" fill="#32cd32"/>
<rect x="497" y="148" width="1" height="28" fill="#ff4500"/>
<rect x="495" y="148" width="5" height="17" fill="#ff4500"/>
<rect x="505" y="123" width="1" height="30" fill="#32cd32"/>
<rect x="503" y="127" width="5" height="19" fill="#32cd32"/>
<rect x="513" y="131" width="1" height="18" fill="#ff4500"/>
<rect x="511" y="138" width="5" height="8" fill="#ff4500"/>
<rect x="521" y="128" width="1" height="40" fill="#32cd32"/>
<rect x="519" y="129" width="5" height="31" fill="#32cd32"/>
<rect x="529" y="142" width="1" height="18" fill="#ff4500"/>
<rect x="527" y="145" width="5" height="15" fill="#ff4500"/>
<rect x="537" y="134" width="1" height="45" fill="#32cd32"/>
<rect x="535" y="137" width="5" height="16" fill="#32cd32"/>
<rect x="545" y="151" width="1" height="26" fill="#32cd32"/>
<rect x="543" y="152" width="5" height="19" fill="#32cd32"/>
<rect x="553" y="143" width="1" height="21" fill="#ff4500"/>
<rect x="551" y="150" width="5" height="3" fill="#ff4500"/>
<rect x="561" y="119" width="1" height="35" fill="#ff4500"/>
<rect x="559" y="129" width="5" height="23" fill="#ff4500"/>
<rect x="569" y="127" width="1" height="26" fill="#32cd32"/>
<rect x="567" y="129" width="5" height="11" fill="#32cd32"/>
<rect x="577" y="138" width="1" height="29" fill="#32cd32"/>
<rect x="575" y="139" width="5" height="7" fill="#32cd32"/>
<rect x="585" y="154" width="1" height="27" fill="#32cd32"/>
<rect x="583" y="155" width="5" height="22" fill="#32cd32"/>
<rect x="593" y="176" width="1" height="53" fill="#32cd32"/>
<rect x="591" y="176" width="5" height="41" fill="#32cd32"/>
<rect x="601" y="183" width="1" height="23" fill="#ff4500"/>
<rect x="599" y="192" width="5" height="10" fill="#ff4500"/>
<rect x="609" y="187" width="1" height="17" fill="#32cd32"/>
<rect x="607" y="192" width="5" height="9" fill="#32cd32"/>
<rect x="617" y="186" width="1" height="28" fill="#32cd32"/>
<rect x="615" y="186" width="5" height="14" fill="#32cd32"/>
<rect x="625" y="182" width="1" height="23" fill="#ff4500"/>
<rect x="623" y="183" width="5" height="16" fill="#ff4500"/>
<rect x="633" y="172" width="1" height="14" fill="#32cd32"/>
<rect x="631" y="175" width="5" height="3" fill="#32cd32"/>
<rect x="641" y="166" width="1" height="19" fill="#32cd32"/>
<rect x="639" y="176" width="5" height="3" fill="#32cd32"/>
<rect x="649" y="192" width="1" height="45" fill="#32cd32"/>
<rect x="647" y="192" width="5" height="42" fill="#32cd32"/>
<rect x="657" y="206" width="1" height="30" fill="#ff4500"/>
<rect x="655" y="209" width="5" height="25" fill="#ff4500"/>
<rect x="665" y="171" width="1" height="44" fill="#ff4500"/>
<rect x="663" y="177" width="5" height="26" fill="#ff4500"/>
<rect x="673" y="176" width="1" height="38" fill="#32cd32"/>
<rect x="671" y="177" width="5" height="33" fill="#32cd32"/>
<rect x="681" y="210" width="1" height="24" fill="#32cd32"/>
<rect x="679" y="219" width="5" height="6" fill="#32cd32"/>
<rect x="689" y="213" width="1" height="21" fill="#32cd32"/>
<rect x="687" y="225" width="5" height="9" fill="#32cd32"/>
<rect x="697" y="208" width="1" height="44" fill="#32cd32"/>
<rect x="695" y="219" width="5" height="33" fill="#32cd32"/>
<rect x="705" y="235" width="1" height="26" fill="#32cd32"/>
<rect x="703" y="251" width="5" height="8" fill="#32cd32"/>
<rect x="713" y="244" width="1" height="19" fill="#32cd32"/>
<rect x="711" y="250" width="5" height="4" fill="#32cd32"/>
<rect x="721" y="239" width="1" height="15" fill="#ff4500"/>
<rect x="719" y="248" width="5" height="6" fill="#ff4500"/>
<rect x="729" y="244" width="1" height="29" fill="#32cd32"/>
<rect x="727" y="252" width="5" height="18" fill="#32cd32"/>
<rect x="737" y="245" width="1" height="64" fill="#32cd32"/>
<rect x="735" y="268" width="5" height="39" fill="#32cd32"/>
<rect x="745" y="247" width="1" height="44" fill="#ff4500"/>
<rect x="743" y="252" width="5" height="39" fill="#ff4500"/>
<rect x="753" y="255" width="1" height="23" fill="#32cd32"/>
<rect x="751" y="255" width="5" height="20" fill="#32cd32"/>
<rect x="761" y="268" width="1" height="39" fill="#ff4500"/>
<rect x="759" y="283" width="5" height="8" fill="#ff4500"/>
<rect x="769" y="263" width="1" height="25" fill="#ff4500"/>
<rect x="767" y="270" width="5" height="14" fill="#ff4500"/>
<rect x="777" y="256" width="1" height="26" fill="#ff4500"/>
<rect x="775" y="263" width="5" height="16" fill="#ff4500"/>
<rect x="785" y="232" width="1" height="33" fill="#ff4500"/>
<rect x="783" y="239" width="5" height="25" fill="#ff4500"/>
<rect x="793" y="211" width="1" height="36" fill="#ff4500"/>
<rect x="791" y="219" width="5" height="8" fill="#ff4500"/>
<rect x="801" y="179" width="1" height="43" fill="#ff4500"/>
<rect x="799" y="190" width="5" height="31" fill="#ff4500"/>
<rect x="809" y="118" width="1" height="56" fill="#ff4500"/>
<rect x="807" y="141" width="5" height="20" fill="#ff4500"/>
<rect x="817" y="138" width="1" height="32" fill="#32cd32"/>
<rect x="815" y="142" width="5" height="19" fill="#32cd32"/>
<rect x="825" y="157" width="1" height="17" fill="#32cd32"/>
<rect x="823" y="162" width="5" height="5" fill="#32cd32"/>
<rect x="833" y="162" width="1" height="11" fill="#32cd32"/>
<rect x="831" y="165" width="5" height="5" fill="#32cd32"/>
<rect x="841" y="137" width="1" height="52" fill="#32cd32"/>
<rect x="839" y="166" width="5" height="16" fill="#32cd32"/>
<rect x="849" y="172" width="1" height="18" fill="#32cd32"/>
<rect x="847" y="183" width="5" height="4" fill="#32cd32"/>
<rect x="857" y="169" width="1" height="15" fill="#32cd32"/>
<rect x="855" y="173" width="5" height="5" fill="#32cd32"/>
<rect x="865" y="176" width="1" height="19" fill="#32cd32"/>
<rect x="863" y="178" width="5" height="4" fill="#32cd32"/>
<rect x="873" y="162" width="1" height="51" fill="#32cd32"/>
<rect x="871" y="175" width="5" height="35" fill="#32cd32"/>
<rect x="881" y="207" width="1" height="52" fill="#32cd32"/>
<rect x="879" y="210" width="5" height="39" fill="#32cd32"/>
<rect x="889" y="229" width="1" height="28" fill="#ff4500"/>
<rect x="887" y="231" width="5" height="16" fill="#ff4500"/>
<rect x="897" y="229" width="1" height="25" fill="#32cd32"/>
<rect x="895" y="231" width="5" height="6" fill="#32cd32"/>
<rect x="905" y="220" width="1" height="29" fill="#32cd32"/>
<rect x="903" y="225" width="5" height="17" fill="#32cd32"/>
<rect x="913" y="211" width="1" height="40" fill="#ff4500"/>
<rect x="911" y="225" width="5" height="19" fill="#ff4500"/>
<rect x="921" y="215" width="1" height="26" fill="#32cd32"/>
<rect x="919" y="229" width="5" height="8" fill="#32cd32"/>
<rect x="929" y="229" width="1" height="31" fill="#32cd32"/>
<rect x="927" y="237" width="5" height="5" fill="#32cd32"/>
<rect x="937" y="219" width="1" height="31" fill="#32cd32"/>
<rect x="935" y="238" width="5" height="11" fill="#32cd32"/>
<rect x="945" y="233" width="1" height="29" fill="#ff4500"/>
<rect x="943" y="233" width="5" height="16" fill="#ff4500"/>
<rect x="953" y="222" width="1" height="44" fill="#32cd32"/>
<rect x="951" y="239" width="5" height="2" fill="#32cd32"/>
<rect x="961" y="202" width="1" height="41" fill="#ff4500"/>
<rect x="959" y="204" width="5" height="36" fill="#ff4500"/>
<rect x="969" y="175" width="1" height="32" fill="#ff4500"/>
<rect x="967" y="182" width="5" height="15" fill="#ff4500"/>
<rect x="977" y="179" width="1" height="18" fill="#32cd32"/>
<rect x="975" y="181" width="5" height="4" fill="#32cd32"/>
<rect x="985" y="179" width="1" height="13" fill="#32cd32"/>
<rect x="983" y="184" width="5" height="5" fill="#32cd32"/>
<rect x="993" y="185" width="1" height="16" fill="#32cd32"/>
<rect x="991" y="189" width="5" height="11" fill="#32cd32"/>
<rect x="1001" y="198" width="1" height="35" fill="#32cd32"/>
<rect x="999" y="204" width="5" height="22" fill="#32cd32"/>
<rect x="1009" y="216" width="1" height="18" fill="#32cd32"/>
<rect x="1007" y="225" width="5" height="2" fill="#32cd32"/>
<rect x="1017" y="208" width="1" height="19" fill="#32cd32"/>
<rect x="1015" y="212" width="5" height="9" fill="#32cd32"/>
<rect x="1025" y="217" width="1" height="22" fill="#32cd32"/>
<rect x="1023" y="219" width="5" height="7" fill="#32cd32"/>
<rect x="1033" y="159" width="1" height="78" fill="#ff4500"/>
<rect x="1031" y="169" width="5" height="59" fill="#ff4500"/>
<rect x="1041" y="145" width="1" height="31" fill="#ff4500"/>
<rect x="1039" y="147" width="5" height="22" fill="#ff4500"/>
<rect x="1049" y="123" width="1" height="23" fill="#ff4500"/>
<rect x="1047" y="129" width="5" height="8" fill="#ff4500"/>
<rect x="1057" y="124" width="1" height="16" fill="#32cd32"/>
<rect x="1055" y="129" width="5" height="3" fill="#32cd32"/>
<rect x="1065" y="89" width="1" height="49" fill="#ff4500"/>
<rect x="1063" y="92" width="5" height="37" fill="#ff4500"/>
<rect x="1073" y="68" width="1" height="48" fill="#32cd32"/>
<rect x="1071" y="91" width="5" height="20" fill="#32cd32"/>
<rect x="1081" y="102" width="1" height="14" fill="#32cd32"/>
<rect x="1079" y="108" width="5" height="2" fill="#32cd32"/>
<rect x="1089" y="106" width="1" height="31" fill="#32cd32"/>
<rect x="1087" y="109" width="5" height="15" fill="#32cd32"/>
<rect x="1097" y="93" width="1" height="42" fill="#32cd32"/>
<rect x="1095" y="126" width="5" height="8" fill="#32cd32"/>
<rect x="1105" y="106" width="1" height="29" fill="#ff4500"/>
<rect x="1103" y="117" width="5" height="18" fill="#ff4500"/>
<rect x="1113" y="86" width="1" height="29" fill="#32cd32"/>
<rect x="1111" y="91" width="5" height="5" fill="#32cd32"/>
<rect x="1121" y="95" width="1" height="44" fill="#32cd32"/>
<rect x="1119" y="95" width="5" height="42" fill="#32cd32"/>
<rect x="1129" y="159" width="1" height="25" fill="#32cd32"/>
<rect x="1127" y="165" width="5" height="14" fill="#32cd32"/>
<rect x="1137" y="171" width="1" height="38" fill="#32cd32"/>
<rect x="1135" y="178" width="5" height="21" fill="#32cd32"/>
<rect x="1145" y="184" width="1" height="43" fill="#32cd32"/>
<rect x="1143" y="191" width="5" height="22" fill="#32cd32"/>
<rect x="1153" y="198" width="1" height="18" fill="#ff4500"/>
<rect x="1151" y="206" width="5" height="7" fill="#ff4500"/>
<rect x="1161" y="199" width="1" height="25" fill="#ff4500"/>
<rect x="1159" y="204" width="5" height="9" fill="#ff4500"/>
<rect x="1169" y="201" width="1" height="18" fill="#ff4500"/>
<rect x="1167" y="203" width="5" height="2" fill="#ff4500"/>
<rect x="1177" y="195" width="1" height="21" fill="#32cd32"/>
<rect x="1175" y="198" width="5" height="11" fill="#32cd32"/>
<rect x="1185" y="192" width="1" height="20" fill="#32cd32"/>
<rect x="1183" y="208" width="5" height="2" fill="#32cd32"/>
<rect x="1193" y="190" width="1" height="43" fill="#32cd32"/>
<rect x="1191" y="201" width="5" height="3" fill="#32cd32"/>
<rect x="1201" y="203" width="1" height="27" fill="#32cd32"/>
<rect x="1199" y="203" width="5" height="22" fill="#32cd32"/>
<rect x="1209" y="189" width="1" height="47" fill="#ff4500"/>
<rect x="1207" y="189" width="5" height="38" fill="#ff4500"/>
<rect x="1217" y="185" width="1" height="17" fill="#32cd32"/>
<rect x="1215" y="189" width="5" height="8" fill="#32cd32"/>
<rect x="1225" y="156" width="1" height="47" fill="#ff4500"/>
<rect x="1223" y="171" width="5" height="30" fill="#ff4500"/>
<rect x="1233" y="152" width="1" height="22" fill="#ff4500"/>
<rect x="1231" y="152" width="5" height="19" fill="#ff4500"/>
<rect x="1241" y="158" width="1" height="21" fill="#32cd32"/>
<rect x="1239" y="163" width="5" height="11" fill="#32cd32"/>
<rect x="1249" y="172" width="1" height="35" fill="#32cd32"/>
<rect x="1247" y="174" width="5" height="23" fill="#32cd32"/>
<rect x="1257" y="198" width="1" height="36" fill="#32cd32"/>
<rect x="1255" y="213" width="5" height="4" fill="#32cd32"/>
<rect x="1265" y="204" width="1" height="20" fill="#ff4500"/>
<rect x="1263" y="215" width="5" height="2" fill="#ff4500"/>
<rect x="1273" y="177" width="1" height="80" fill="#32cd32"/>
<rect x="1271" y="203" width="5" height="49" fill="#32cd32"/>
<rect x="1281" y="233" width="1" height="41" fill="#32cd32"/>
<rect x="1279" y="250" width="5" height="13" fill="#32cd32"/>
<rect x="1289" y="226" width="1" height="35" fill="#ff4500"/>
<rect x="1287" y="244" width="5" height="6" fill="#ff4500"/>
<rect x="1297" y="229" width="1" height="20" fill="#ff4500"/>
<rect x="1295" y="230" width="5" height="15" fill="#ff4500"/>
<rect x="1305" y="207" width="1" height="36" fill="#32cd32"/>
<rect x="1303" y="214" width="5" height="18" fill="#32cd32"/>
<rect x="1313" y="215" width="1" height="20" fill="#ff4500"/>
<rect x="1311" y="227" width="5" height="5" fill="#ff4500"/>
<rect x="1321" y="209" width="1" height="40" fill="#ff4500"/>
<rect x="1319" y="219" width="5" height="12" fill="#ff4500"/>
<rect x="1329" y="212" width="1" height="24" fill="#32cd32"/>
<rect x="1327" y="219" width="5" height="7" fill="#32cd32"/>
<rect x="1337" y="211" width="1" height="23" fill="#32cd32"/>
<rect x="1335" y="229" width="5" height="2" fill="#32cd32"/>
<rect x="1345" y="230" width="1" height="18" fill="#32cd32"/>
<rect x="1343" y="230" width="5" height="5" fill="#32cd32"/>
</g>
<rect x="1680" y="114" width="49" height="14" fill="#ff0000"/>
<text x="1685" y="126" font-size="12" fill="#fff" textLength="39" lengthAdjust="spacingAndGlyphs">3985.0</text>
<rect x="1680" y="173" width="49" height="14" fill="#ff0000"/>
<text x="1685" y="185" font-size="12" fill="#fff" textLength="39" lengthAdjust="spacingAndGlyphs">3924.0</text>
<rect x="1680" y="228" width="49" height="14" fill="#00ee76"/>
<text x="1685" y="240" font-size="12" fill="#fff" textLength="39" lengthAdjust="spacingAndGlyphs">3867.5</text>
<rect x="1680" y="299" width="49" height="14" fill="#0000ff"/>
<text x="1685" y="311" font-size="12" fill="#fff" textLength="39" lengthAdjust="spacingAndGlyphs">3795.0</text>
<rect x="1680" y="386" width="49" height="14" fill="#0000ff"/>
<text x="1685" y="398" font-size="12" fill="#fff" textLength="39" lengthAdjust="spacingAndGlyphs">3706.2</text>
<path d="M1353.5 44 L1365.5 44 L1359.5 50 Z" fill="#c0c0c0"/>
<path d="M12 56 L21 56 L16.5 51 Z" fill="#000" shape-rendering="crispEdges"/>
<text x="27" y="58" font-size="12" fill="#000" textLength="78.5" lengthAdjust="spacingAndGlyphs">CHINA300-,H4</text>
<text x="114" y="58" font-size="12" fill="#000" textLength="168" lengthAdjust="spacingAndGlyphs">3872.2 3872.2 3855.0 3867.3</text>
<defs>
<linearGradient id="gTab" x1="0" y1="0" x2="0" y2="1"><stop offset="0" stop-color="#fb5252"/><stop offset="1" stop-color="#e83a3a"/></linearGradient>
<linearGradient id="gBot" x1="0" y1="0" x2="0" y2="1"><stop offset="0" stop-color="#e53535"/><stop offset="0.5" stop-color="#cc1c1c"/><stop offset="1" stop-color="#ac0000"/></linearGradient>
<linearGradient id="gBtn" x1="0" y1="0" x2="0" y2="1"><stop offset="0" stop-color="#eeeeee"/><stop offset="0.45" stop-color="#dcdcdc"/><stop offset="0.5" stop-color="#cfcfcf"/><stop offset="1" stop-color="#c6c6c6"/></linearGradient>
</defs>
<rect x="11" y="65" width="286" height="78" fill="#ffffff"/>
<rect x="12" y="66" width="68" height="28" fill="url(#gTab)"/>
<rect x="227" y="66" width="68" height="28" fill="url(#gTab)"/>
<rect x="12" y="93" width="141" height="49" fill="url(#gBot)"/>
<rect x="155" y="93" width="140" height="49" fill="url(#gBot)"/>
<rect x="12" y="66" width="68" height="1" fill="#c41414"/>
<rect x="227" y="66" width="68" height="1" fill="#c41414"/>
<rect x="12" y="66" width="1" height="76" fill="#c81818"/>
<rect x="294" y="66" width="1" height="76" fill="#c81818"/>
<rect x="79" y="66" width="1" height="27" fill="#d02020"/>
<rect x="227" y="66" width="1" height="27" fill="#d02020"/>
<rect x="12" y="141" width="141" height="1" fill="#a00000"/>
<rect x="155" y="141" width="140" height="1" fill="#a00000"/>
<rect x="152" y="93" width="1" height="49" fill="#b81010"/>
<rect x="155" y="93" width="1" height="49" fill="#b81010"/>
<rect x="16" y="92" width="61" height="1" fill="#8f0a0a"/>
<rect x="16" y="93" width="61" height="1" fill="#f07070"/>
<rect x="231" y="92" width="60" height="1" fill="#8f0a0a"/>
<rect x="231" y="93" width="60" height="1" fill="#f07070"/>
<text x="29" y="84.7" font-size="15.3" fill="#fff4e8" textLength="32.8" lengthAdjust="spacingAndGlyphs">SELL</text>
<text x="246.3" y="84.7" font-size="15.3" fill="#fff4e8" textLength="28" lengthAdjust="spacingAndGlyphs">BUY</text>
<rect x="81" y="66" width="145" height="26" fill="#ffffff"/>
<rect x="82" y="66" width="143" height="1" fill="#a8a8b8"/>
<rect x="82" y="91" width="143" height="1" fill="#a8a8b8"/>
<rect x="82" y="66" width="1" height="26" fill="#a8a8b8"/>
<rect x="224" y="66" width="1" height="26" fill="#a8a8b8"/>
<rect x="83" y="67" width="23" height="24" fill="url(#gBtn)"/>
<rect x="106" y="67" width="1" height="24" fill="#b0b0c0"/>
<rect x="201" y="67" width="23" height="24" fill="url(#gBtn)"/>
<rect x="200" y="67" width="1" height="24" fill="#b0b0c0"/>
<path d="M90.6 77 L98.4 77 L94.5 81.4 Z" fill="#4a5fc0"/>
<path d="M208.6 80.6 L216.4 80.6 L212.5 76.4 Z" fill="#4a5fc0"/>
<text x="166.6" y="84" font-size="15.3" fill="#000" textLength="29.8" lengthAdjust="spacingAndGlyphs">1.00</text>
<text x="42.4" y="131" font-size="14" fill="#fff" textLength="35" lengthAdjust="spacingAndGlyphs" font-weight="bold">3865</text>
<ellipse cx="86.2" cy="128.8" rx="2.7" ry="2.4" fill="#fff"/>
<text x="91.2" y="131" font-size="41.5" fill="#fff" textLength="21.8" lengthAdjust="spacingAndGlyphs">8</text>
<text x="184.7" y="131" font-size="14" fill="#fff" textLength="34.5" lengthAdjust="spacingAndGlyphs" font-weight="bold">3871</text>
<ellipse cx="229.3" cy="128.8" rx="2.7" ry="2.4" fill="#fff"/>
<text x="233.8" y="131" font-size="41.5" fill="#fff" textLength="21.8" lengthAdjust="spacingAndGlyphs">4</text>
<text x="1114.2" y="477.5" font-size="52.6" fill="#ff1e0f" textLength="254" lengthAdjust="spacingAndGlyphs" font-family='"Liberation Sans","Noto Sans CJK SC",sans-serif'>多空转折点</text>
<text x="1365" y="474.8" font-size="54" fill="#ff1e0f" textLength="158" lengthAdjust="spacingAndGlyphs" font-family='"Liberation Sans","Noto Sans CJK SC",sans-serif'>3867.5</text>
<g id="macd" shape-rendering="crispEdges">
<rect x="17" y="565" width="1" height="5" fill="#c0c0c0"/>
<rect x="25" y="565" width="1" height="5" fill="#c0c0c0"/>
<rect x="33" y="564" width="1" height="6" fill="#c0c0c0"/>
<rect x="41" y="563" width="1" height="7" fill="#c0c0c0"/>
<rect x="49" y="562" width="1" height="8" fill="#c0c0c0"/>
<rect x="57" y="563" width="1" height="7" fill="#c0c0c0"/>
<rect x="65" y="564" width="1" height="6" fill="#c0c0c0"/>
<rect x="73" y="565" width="1" height="5" fill="#c0c0c0"/>
<rect x="81" y="567" width="1" height="3" fill="#c0c0c0"/>
<rect x="89" y="569" width="1" height="1" fill="#c0c0c0"/>
<rect x="97" y="569" width="1" height="4" fill="#c0c0c0"/>
<rect x="105" y="569" width="1" height="8" fill="#c0c0c0"/>
<rect x="113" y="569" width="1" height="12" fill="#c0c0c0"/>
<rect x="121" y="569" width="1" height="18" fill="#c0c0c0"/>
<rect x="129" y="569" width="1" height="22" fill="#c0c0c0"/>
<rect x="137" y="569" width="1" height="23" fill="#c0c0c0"/>
<rect x="145" y="569" width="1" height="26" fill="#c0c0c0"/>
<rect x="153" y="569" width="1" height="27" fill="#c0c0c0"/>
<rect x="161" y="569" width="1" height="27" fill="#c0c0c0"/>
<rect x="169" y="569" width="1" height="27" fill="#c0c0c0"/>
<rect x="177" y="569" width="1" height="27" fill="#c0c0c0"/>
<rect x="185" y="569" width="1" height="25" fill="#c0c0c0"/>
<rect x="193" y="569" width="1" height="22" fill="#c0c0c0"/>
<rect x="201" y="569" width="1" height="21" fill="#c0c0c0"/>
<rect x="209" y="569" width="1" height="20" fill="#c0c0c0"/>
<rect x="217" y="569" width="1" height="18" fill="#c0c0c0"/>
<rect x="225" y="569" width="1" height="16" fill="#c0c0c0"/>
<rect x="233" y="569" width="1" height="16" fill="#c0c0c0"/>
<rect x="241" y="569" width="1" height="15" fill="#c0c0c0"/>
<rect x="249" y="569" width="1" height="12" fill="#c0c0c0"/>
<rect x="257" y="569" width="1" height="10" fill="#c0c0c0"/>
<rect x="265" y="569" width="1" height="7" fill="#c0c0c0"/>
<rect x="273" y="569" width="1" height="2" fill="#c0c0c0"/>
<rect x="281" y="569" width="1" height="1" fill="#c0c0c0"/>
<rect x="289" y="566" width="1" height="4" fill="#c0c0c0"/>
<rect x="297" y="564" width="1" height="6" fill="#c0c0c0"/>
<rect x="305" y="563" width="1" height="7" fill="#c0c0c0"/>
<rect x="313" y="562" width="1" height="8" fill="#c0c0c0"/>
<rect x="321" y="561" width="1" height="9" fill="#c0c0c0"/>
<rect x="329" y="559" width="1" height="11" fill="#c0c0c0"/>
<rect x="337" y="558" width="1" height="12" fill="#c0c0c0"/>
<rect x="345" y="559" width="1" height="11" fill="#c0c0c0"/>
<rect x="353" y="561" width="1" height="9" fill="#c0c0c0"/>
<rect x="361" y="558" width="1" height="12" fill="#c0c0c0"/>
<rect x="369" y="557" width="1" height="13" fill="#c0c0c0"/>
<rect x="377" y="557" width="1" height="13" fill="#c0c0c0"/>
<rect x="385" y="558" width="1" height="12" fill="#c0c0c0"/>
<rect x="393" y="559" width="1" height="11" fill="#c0c0c0"/>
<rect x="401" y="560" width="1" height="10" fill="#c0c0c0"/>
<rect x="409" y="560" width="1" height="10" fill="#c0c0c0"/>
<rect x="417" y="560" width="1" height="10" fill="#c0c0c0"/>
<rect x="425" y="558" width="1" height="12" fill="#c0c0c0"/>
<rect x="433" y="558" width="1" height="12" fill="#c0c0c0"/>
<rect x="441" y="558" width="1" height="12" fill="#c0c0c0"/>
<rect x="449" y="557" width="1" height="13" fill="#c0c0c0"/>
<rect x="457" y="557" width="1" height="13" fill="#c0c0c0"/>
<rect x="465" y="555" width="1" height="15" fill="#c0c0c0"/>
<rect x="473" y="551" width="1" height="19" fill="#c0c0c0"/>
<rect x="481" y="549" width="1" height="21" fill="#c0c0c0"/>
<rect x="489" y="547" width="1" height="23" fill="#c0c0c0"/>
<rect x="497" y="546" width="1" height="24" fill="#c0c0c0"/>
<rect x="505" y="544" width="1" height="26" fill="#c0c0c0"/>
<rect x="513" y="543" width="1" height="27" fill="#c0c0c0"/>
<rect x="521" y="543" width="1" height="27" fill="#c0c0c0"/>
<rect x="529" y="544" width="1" height="26" fill="#c0c0c0"/>
<rect x="537" y="545" width="1" height="25" fill="#c0c0c0"/>
<rect x="545" y="546" width="1" height="24" fill="#c0c0c0"/>
<rect x="553" y="546" width="1" height="24" fill="#c0c0c0"/>
<rect x="561" y="546" width="1" height="24" fill="#c0c0c0"/>
<rect x="569" y="547" width="1" height="23" fill="#c0c0c0"/>
<rect x="577" y="548" width="1" height="22" fill="#c0c0c0"/>
<rect x="585" y="550" width="1" height="20" fill="#c0c0c0"/>
<rect x="593" y="554" width="1" height="16" fill="#c0c0c0"/>
<rect x="601" y="556" width="1" height="14" fill="#c0c0c0"/>
<rect x="609" y="558" width="1" height="12" fill="#c0c0c0"/>
<rect x="617" y="560" width="1" height="10" fill="#c0c0c0"/>
<rect x="625" y="561" width="1" height="9" fill="#c0c0c0"/>
<rect x="633" y="561" width="1" height="9" fill="#c0c0c0"/>
<rect x="641" y="562" width="1" height="8" fill="#c0c0c0"/>
<rect x="649" y="564" width="1" height="6" fill="#c0c0c0"/>
<rect x="657" y="566" width="1" height="4" fill="#c0c0c0"/>
<rect x="665" y="566" width="1" height="4" fill="#c0c0c0"/>
<rect x="673" y="567" width="1" height="3" fill="#c0c0c0"/>
<rect x="681" y="568" width="1" height="2" fill="#c0c0c0"/>
<rect x="697" y="569" width="1" height="2" fill="#c0c0c0"/>
<rect x="705" y="569" width="1" height="3" fill="#c0c0c0"/>
<rect x="713" y="569" width="1" height="5" fill="#c0c0c0"/>
<rect x="721" y="569" width="1" height="5" fill="#c0c0c0"/>
<rect x="729" y="569" width="1" height="7" fill="#c0c0c0"/>
<rect x="737" y="569" width="1" height="9" fill="#c0c0c0"/>
<rect x="745" y="569" width="1" height="9" fill="#c0c0c0"/>
<rect x="753" y="569" width="1" height="10" fill="#c0c0c0"/>
<rect x="761" y="569" width="1" height="8" fill="#c0c0c0"/>
<rect x="769" y="569" width="1" height="7" fill="#c0c0c0"/>
<rect x="777" y="569" width="1" height="7" fill="#c0c0c0"/>
<rect x="785" y="569" width="1" height="8" fill="#c0c0c0"/>
<rect x="793" y="569" width="1" height="6" fill="#c0c0c0"/>
<rect x="801" y="569" width="1" height="4" fill="#c0c0c0"/>
<rect x="817" y="567" width="1" height="3" fill="#c0c0c0"/>
<rect x="825" y="565" width="1" height="5" fill="#c0c0c0"/>
<rect x="833" y="564" width="1" height="6" fill="#c0c0c0"/>
<rect x="841" y="563" width="1" height="7" fill="#c0c0c0"/>
<rect x="849" y="563" width="1" height="7" fill="#c0c0c0"/>
<rect x="857" y="563" width="1" height="7" fill="#c0c0c0"/>
<rect x="865" y="563" width="1" height="7" fill="#c0c0c0"/>
<rect x="873" y="564" width="1" height="6" fill="#c0c0c0"/>
<rect x="881" y="566" width="1" height="4" fill="#c0c0c0"/>
<rect x="889" y="568" width="1" height="2" fill="#c0c0c0"/>
<rect x="905" y="569" width="1" height="1" fill="#c0c0c0"/>
<rect x="913" y="569" width="1" height="1" fill="#c0c0c0"/>
<rect x="921" y="569" width="1" height="2" fill="#c0c0c0"/>
<rect x="929" y="569" width="1" height="3" fill="#c0c0c0"/>
<rect x="937" y="569" width="1" height="2" fill="#c0c0c0"/>
<rect x="945" y="569" width="1" height="3" fill="#c0c0c0"/>
<rect x="953" y="569" width="1" height="2" fill="#c0c0c0"/>
<rect x="961" y="569" width="1" height="1" fill="#c0c0c0"/>
<rect x="969" y="569" width="1" height="1" fill="#c0c0c0"/>
<rect x="985" y="568" width="1" height="2" fill="#c0c0c0"/>
<rect x="993" y="568" width="1" height="2" fill="#c0c0c0"/>
<rect x="1001" y="569" width="1" height="1" fill="#c0c0c0"/>
<rect x="1009" y="569" width="1" height="1" fill="#c0c0c0"/>
<rect x="1033" y="568" width="1" height="2" fill="#c0c0c0"/>
<rect x="1041" y="568" width="1" height="2" fill="#c0c0c0"/>
<rect x="1049" y="564" width="1" height="6" fill="#c0c0c0"/>
<rect x="1057" y="562" width="1" height="8" fill="#c0c0c0"/>
<rect x="1065" y="559" width="1" height="11" fill="#c0c0c0"/>
<rect x="1073" y="557" width="1" height="13" fill="#c0c0c0"/>
<rect x="1081" y="556" width="1" height="14" fill="#c0c0c0"/>
<rect x="1089" y="556" width="1" height="14" fill="#c0c0c0"/>
<rect x="1097" y="556" width="1" height="14" fill="#c0c0c0"/>
<rect x="1105" y="556" width="1" height="14" fill="#c0c0c0"/>
<rect x="1113" y="555" width="1" height="15" fill="#c0c0c0"/>
<rect x="1121" y="557" width="1" height="13" fill="#c0c0c0"/>
<rect x="1129" y="559" width="1" height="11" fill="#c0c0c0"/>
<rect x="1137" y="562" width="1" height="8" fill="#c0c0c0"/>
<rect x="1145" y="565" width="1" height="5" fill="#c0c0c0"/>
<rect x="1153" y="568" width="1" height="2" fill="#c0c0c0"/>
<rect x="1169" y="569" width="1" height="1" fill="#c0c0c0"/>
<rect x="1177" y="569" width="1" height="2" fill="#c0c0c0"/>
<rect x="1185" y="569" width="1" height="3" fill="#c0c0c0"/>
<rect x="1193" y="569" width="1" height="4" fill="#c0c0c0"/>
<rect x="1201" y="569" width="1" height="5" fill="#c0c0c0"/>
<rect x="1209" y="569" width="1" height="5" fill="#c0c0c0"/>
<rect x="1217" y="569" width="1" height="4" fill="#c0c0c0"/>
<rect x="1225" y="569" width="1" height="4" fill="#c0c0c0"/>
<rect x="1233" y="569" width="1" height="2" fill="#c0c0c0"/>
<rect x="1241" y="569" width="1" height="1" fill="#c0c0c0"/>
<rect x="1249" y="569" width="1" height="1" fill="#c0c0c0"/>
<rect x="1257" y="569" width="1" height="4" fill="#c0c0c0"/>
<rect x="1265" y="569" width="1" height="4" fill="#c0c0c0"/>
<rect x="1273" y="569" width="1" height="5" fill="#c0c0c0"/>
<rect x="1281" y="569" width="1" height="7" fill="#c0c0c0"/>
<rect x="1289" y="569" width="1" height="7" fill="#c0c0c0"/>
<rect x="1297" y="569" width="1" height="8" fill="#c0c0c0"/>
<rect x="1305" y="569" width="1" height="8" fill="#c0c0c0"/>
<rect x="1313" y="569" width="1" height="7" fill="#c0c0c0"/>
<rect x="1321" y="569" width="1" height="7" fill="#c0c0c0"/>
<rect x="1329" y="569" width="1" height="7" fill="#c0c0c0"/>
<rect x="1337" y="569" width="1" height="7" fill="#c0c0c0"/>
<rect x="1345" y="569" width="1" height="7" fill="#c0c0c0"/>
</g>
<path d="M9 570h3v1h-3zM15 569h3v1h-3zM21 568h3v1h-3zM27 567h3v1h-3zM33 567h3v1h-3zM39 566h3v1h-3zM45 566h1v1h-1zM46 565h2v1h-2zM51 565h2v1h-2zM53 564h1v1h-1zM57 564h3v1h-3zM63 563h3v1h-3zM69 563h3v1h-3zM75 563h3v1h-3zM81 563h3v1h-3zM87 564h3v1h-3zM93 564h1v1h-1zM94 565h2v1h-2zM99 565h3v1h-3zM105 566h3v1h-3zM111 567h2v1h-2zM113 568h1v1h-1zM117 569h1v1h-1zM118 570h2v1h-2zM123 572h2v1h-2zM125 573h1v1h-1zM129 574h1v1h-1zM130 575h2v1h-2zM135 577h2v1h-2zM137 578h1v1h-1zM141 580h3v1h-3zM147 582h2v1h-2zM149 583h1v1h-1zM153 585h2v1h-2zM155 586h1v1h-1zM159 587h1v1h-1zM160 588h2v1h-2zM165 589h3v1h-3zM171 590h2v1h-2zM173 591h1v1h-1zM177 592h3v1h-3zM183 593h1v1h-1zM184 594h2v1h-2zM189 594h3v1h-3zM195 594h3v1h-3zM201 594h3v1h-3zM207 594h1v1h-1zM208 593h2v1h-2zM213 593h3v1h-3zM219 593h1v1h-1zM220 592h2v1h-2zM225 592h1v1h-1zM226 591h2v1h-2zM231 591h1v1h-1zM232 590h2v1h-2zM237 590h1v1h-1zM238 589h2v1h-2zM243 589h1v1h-1zM244 588h2v1h-2zM249 588h1v1h-1zM250 587h2v1h-2zM255 586h3v1h-3zM261 585h2v1h-2zM263 584h1v1h-1zM267 583h3v1h-3zM273 582h2v1h-2zM275 581h1v1h-1zM279 580h3v1h-3zM285 579h1v1h-1zM286 578h2v1h-2zM291 577h2v1h-2zM293 576h1v1h-1zM297 575h3v1h-3zM303 573h3v1h-3zM309 571h3v1h-3zM315 570h1v1h-1zM316 569h2v1h-2zM321 567h3v1h-3zM327 565h3v1h-3zM333 564h1v1h-1zM334 563h2v1h-2zM339 562h3v1h-3zM345 561h3v1h-3zM351 560h3v1h-3zM357 560h1v1h-1zM358 559h2v1h-2zM363 559h3v1h-3zM369 559h3v1h-3zM375 558h3v1h-3zM381 558h3v1h-3zM387 558h2v1h-2zM389 557h1v1h-1zM393 557h3v1h-3zM399 557h3v1h-3zM405 558h3v1h-3zM411 558h3v1h-3zM417 558h3v1h-3zM423 558h3v1h-3zM429 558h3v1h-3zM435 558h3v1h-3zM441 558h3v1h-3zM447 558h3v1h-3zM453 558h3v1h-3zM459 558h2v1h-2zM461 557h1v1h-1zM465 557h3v1h-3zM471 556h3v1h-3zM477 555h3v1h-3zM483 554h3v1h-3zM489 554h1v1h-1zM490 553h2v1h-2zM495 552h3v1h-3zM501 551h3v1h-3zM507 550h3v1h-3zM513 550h1v1h-1zM514 549h2v1h-2zM519 548h1v1h-1zM520 547h2v1h-2zM525 546h3v1h-3zM531 546h1v1h-1zM532 545h2v1h-2zM537 545h3v1h-3zM543 544h3v1h-3zM549 544h3v1h-3zM555 544h3v1h-3zM561 544h3v1h-3zM567 544h3v1h-3zM573 544h3v1h-3zM579 544h3v1h-3zM585 544h1v1h-1zM586 545h2v1h-2zM591 545h1v1h-1zM592 546h2v1h-2zM597 546h1v1h-1zM598 547h2v1h-2zM603 547h1v1h-1zM604 548h2v1h-2zM609 548h1v1h-1zM610 549h2v1h-2zM615 550h3v1h-3zM621 551h2v1h-2zM623 552h1v1h-1zM627 552h1v1h-1zM628 553h2v1h-2zM633 554h3v1h-3zM639 555h3v1h-3zM645 556h2v1h-2zM647 557h1v1h-1zM651 558h3v1h-3zM657 559h3v1h-3zM663 560h2v1h-2zM665 561h1v1h-1zM669 561h1v1h-1zM670 562h2v1h-2zM675 562h3v1h-3zM681 563h3v1h-3zM687 563h3v1h-3zM693 564h3v1h-3zM699 565h1v1h-1zM700 566h2v1h-2zM705 567h3v1h-3zM711 568h3v1h-3zM717 568h2v1h-2zM719 569h1v1h-1zM723 569h2v1h-2zM725 570h1v1h-1zM729 570h1v1h-1zM730 571h2v1h-2zM735 572h3v1h-3zM741 572h2v1h-2zM743 573h1v1h-1zM747 573h3v1h-3zM753 574h1v1h-1zM754 575h2v1h-2zM759 576h3v1h-3zM765 577h3v1h-3zM771 577h3v1h-3zM777 577h1v1h-1zM778 578h2v1h-2zM783 578h3v1h-3zM789 578h3v1h-3zM795 578h3v1h-3zM801 578h3v1h-3zM807 577h3v1h-3zM813 576h3v1h-3zM819 575h2v1h-2zM821 574h1v1h-1zM825 573h3v1h-3zM831 572h2v1h-2zM833 571h1v1h-1zM837 570h3v1h-3zM843 569h2v1h-2zM845 568h1v1h-1zM849 567h3v1h-3zM855 566h3v1h-3zM861 565h3v1h-3zM867 564h3v1h-3zM873 563h3v1h-3zM879 563h3v1h-3zM885 563h3v1h-3zM891 563h3v1h-3zM897 563h3v1h-3zM903 564h3v1h-3zM909 564h1v1h-1zM910 565h2v1h-2zM915 565h3v1h-3zM921 566h3v1h-3zM927 567h3v1h-3zM933 568h1v1h-1zM934 569h2v1h-2zM939 569h2v1h-2zM941 570h1v1h-1zM945 570h3v1h-3zM951 571h3v1h-3zM957 571h3v1h-3zM963 571h3v1h-3zM969 571h3v1h-3zM975 571h3v1h-3zM981 571h3v1h-3zM987 571h3v1h-3zM993 571h3v1h-3zM999 570h3v1h-3zM1005 570h3v1h-3zM1011 569h3v1h-3zM1017 569h3v1h-3zM1023 569h3v1h-3zM1029 568h3v1h-3zM1035 568h3v1h-3zM1041 568h3v1h-3zM1047 567h3v1h-3zM1053 567h1v1h-1zM1054 566h2v1h-2zM1059 566h3v1h-3zM1065 565h3v1h-3zM1071 564h3v1h-3zM1077 563h3v1h-3zM1083 562h3v1h-3zM1089 561h3v1h-3zM1095 560h3v1h-3zM1101 559h2v1h-2zM1103 558h1v1h-1zM1107 558h2v1h-2zM1109 557h1v1h-1zM1113 557h1v1h-1zM1114 556h2v1h-2zM1119 556h3v1h-3zM1125 556h3v1h-3zM1131 556h3v1h-3zM1137 556h3v1h-3zM1143 556h3v1h-3zM1149 557h2v1h-2zM1151 558h1v1h-1zM1155 558h1v1h-1zM1156 559h2v1h-2zM1161 559h2v1h-2zM1163 560h1v1h-1zM1167 560h3v1h-3zM1173 561h3v1h-3zM1179 562h1v1h-1zM1180 563h2v1h-2zM1185 564h2v1h-2zM1187 565h1v1h-1zM1191 566h3v1h-3zM1197 567h1v1h-1zM1198 568h2v1h-2zM1203 569h2v1h-2zM1205 570h1v1h-1zM1209 571h2v1h-2zM1211 572h1v1h-1zM1215 572h3v1h-3zM1221 572h3v1h-3zM1227 572h3v1h-3zM1233 572h3v1h-3zM1239 572h3v1h-3zM1245 572h3v1h-3zM1251 572h3v1h-3zM1257 572h3v1h-3zM1263 572h3v1h-3zM1269 572h3v1h-3zM1275 572h3v1h-3zM1281 573h3v1h-3zM1287 573h3v1h-3zM1293 574h3v1h-3zM1299 574h3v1h-3zM1305 574h3v1h-3zM1311 575h3v1h-3zM1317 575h3v1h-3zM1323 575h3v1h-3zM1329 575h1v1h-1zM1330 576h2v1h-2zM1335 576h3v1h-3zM1341 576h1v1h-1zM1342 577h2v1h-2z" fill="#ff0000" shape-rendering="crispEdges"/>
<text x="13" y="554" font-size="12" fill="#000" textLength="164" lengthAdjust="spacingAndGlyphs">MACD(12,26,9) -12.93 -14.07</text>
<rect x="1679" y="539" width="2" height="1" fill="#000"/>
<text x="1682.5" y="552" font-size="12" fill="#000" textLength="31" lengthAdjust="spacingAndGlyphs">58.05</text>
<rect x="1679" y="569" width="2" height="1" fill="#000"/>
<text x="1682.5" y="574" font-size="12" fill="#000" textLength="24" lengthAdjust="spacingAndGlyphs">0.00</text>
<rect x="1679" y="598" width="2" height="1" fill="#000"/>
<text x="1682.5" y="596" font-size="12" fill="#000" textLength="35" lengthAdjust="spacingAndGlyphs">-56.94</text>
<line x1="10" y1="640.5" x2="1678" y2="640.5" stroke="#c0c0c0" stroke-width="1" stroke-dasharray="3 3" shape-rendering="crispEdges"/>
<line x1="10" y1="691.5" x2="1678" y2="691.5" stroke="#c0c0c0" stroke-width="1" stroke-dasharray="3 3" shape-rendering="crispEdges"/>
<path d="M9 657h2v1h-2zM11 656h2v1h-2zM13 655h3v1h-3zM16 654h3v1h-3zM19 655h3v1h-3zM22 656h2v1h-2zM24 657h10v1h-10zM34 656h1v1h-1zM35 655h1v1h-1zM36 654h1v1h-1zM37 653h1v1h-1zM38 652h1v1h-1zM39 651h1v1h-1zM40 650h3v1h-3zM43 651h2v1h-2zM45 652h2v1h-2zM47 653h2v1h-2zM49 654h2v1h-2zM51 655h1v1h-1zM52 656h1v1h-1zM53 657h1v1h-1zM54 658h1v1h-1zM55 659h1v1h-1zM56 660h1v1h-1zM57 661h9v1h-9zM66 662h1v1h-1zM67 663h1v2h-1zM68 665h1v1h-1zM69 666h1v1h-1zM70 667h1v2h-1zM71 669h1v1h-1zM72 670h1v2h-1zM73 672h1v1h-1zM74 671h8v1h-8zM82 672h1v2h-1zM83 674h1v2h-1zM84 676h1v2h-1zM85 678h1v1h-1zM86 679h1v2h-1zM87 681h1v2h-1zM88 683h1v2h-1zM89 685h1v1h-1zM90 684h3v1h-3zM93 683h2v1h-2zM95 682h4v1h-4zM99 683h1v1h-1zM100 684h2v1h-2zM102 685h1v1h-1zM103 686h2v1h-2zM105 687h1v1h-1zM106 688h2v1h-2zM108 689h2v1h-2zM110 690h2v1h-2zM112 691h2v1h-2zM114 692h1v1h-1zM115 693h1v1h-1zM116 694h1v1h-1zM117 695h1v1h-1zM118 696h1v1h-1zM119 697h1v1h-1zM120 698h1v1h-1zM121 699h1v1h-1zM122 698h1v1h-1zM123 697h1v1h-1zM124 696h1v1h-1zM125 695h1v1h-1zM126 694h1v1h-1zM127 693h1v1h-1zM128 692h1v1h-1zM129 691h4v1h-4zM133 692h6v1h-6zM139 693h5v1h-5zM144 694h2v1h-2zM146 692h1v2h-1zM147 691h1v1h-1zM148 690h1v1h-1zM149 688h1v2h-1zM150 687h1v1h-1zM151 686h1v1h-1zM152 685h1v1h-1zM153 684h10v1h-10zM163 685h3v1h-3zM166 686h2v1h-2zM168 687h5v1h-5zM173 686h5v1h-5zM178 685h1v1h-1zM179 684h1v1h-1zM180 683h1v1h-1zM181 682h2v1h-2zM183 681h1v1h-1zM184 680h1v1h-1zM185 679h1v1h-1zM186 678h2v1h-2zM188 677h1v1h-1zM189 676h1v1h-1zM190 675h2v1h-2zM192 674h1v1h-1zM193 673h1v1h-1zM194 674h2v1h-2zM196 675h2v1h-2zM198 676h1v1h-1zM199 677h2v1h-2zM201 678h1v1h-1zM202 677h4v1h-4zM206 676h4v1h-4zM210 675h1v1h-1zM211 674h1v1h-1zM212 673h1v1h-1zM213 672h1v1h-1zM214 671h1v1h-1zM215 670h1v1h-1zM216 669h1v1h-1zM217 668h2v1h-2zM219 669h2v1h-2zM221 670h3v1h-3zM224 671h2v1h-2zM226 672h2v1h-2zM228 673h1v1h-1zM229 674h1v1h-1zM230 675h2v1h-2zM232 676h1v1h-1zM233 677h1v1h-1zM234 676h1v1h-1zM235 675h1v1h-1zM236 674h1v1h-1zM237 673h1v1h-1zM238 672h1v1h-1zM239 671h1v1h-1zM240 670h1v1h-1zM241 669h1v1h-1zM242 668h2v1h-2zM244 667h1v1h-1zM245 666h1v1h-1zM246 665h2v1h-2zM248 664h1v1h-1zM249 663h2v1h-2zM251 664h2v1h-2zM253 665h2v1h-2zM255 666h2v1h-2zM257 666h1v2h-1zM258 665h1v1h-1zM259 663h1v2h-1zM260 661h1v2h-1zM261 660h1v1h-1zM262 658h1v2h-1zM263 657h1v1h-1zM264 655h1v2h-1zM265 654h2v1h-2zM267 653h3v1h-3zM270 652h2v1h-2zM272 651h6v1h-6zM278 652h8v1h-8zM286 653h22v1h-22zM308 654h4v1h-4zM312 655h3v1h-3zM315 654h4v1h-4zM319 653h3v1h-3zM322 652h2v1h-2zM324 651h1v1h-1zM325 650h2v1h-2zM327 649h2v1h-2zM329 648h5v1h-5zM334 649h4v1h-4zM338 650h1v2h-1zM339 652h1v1h-1zM340 653h1v1h-1zM341 654h1v2h-1zM342 656h1v1h-1zM343 657h1v1h-1zM344 658h1v2h-1zM345 660h8v1h-8zM353 659h1v2h-1zM354 658h1v1h-1zM355 656h1v2h-1zM356 655h1v1h-1zM357 653h1v2h-1zM358 652h1v1h-1zM359 650h1v2h-1zM360 649h1v1h-1zM361 648h1v1h-1zM362 649h1v1h-1zM363 650h2v1h-2zM365 651h1v1h-1zM366 652h1v1h-1zM367 653h1v1h-1zM368 654h1v1h-1zM369 655h6v1h-6zM375 656h7v1h-7zM382 657h5v1h-5zM387 658h2v1h-2zM389 659h2v1h-2zM391 660h2v1h-2zM393 661h3v1h-3zM396 660h6v1h-6zM402 659h3v1h-3zM405 658h3v1h-3zM408 657h6v1h-6zM414 658h4v1h-4zM418 657h1v1h-1zM419 655h1v2h-1zM420 654h1v1h-1zM421 653h1v1h-1zM422 652h1v1h-1zM423 651h1v1h-1zM424 650h1v1h-1zM425 649h4v1h-4zM429 650h3v1h-3zM432 651h4v1h-4zM436 650h14v1h-14zM450 649h3v1h-3zM453 648h3v1h-3zM456 647h2v1h-2zM458 646h1v1h-1zM459 645h1v1h-1zM460 644h2v1h-2zM462 643h1v1h-1zM463 642h1v1h-1zM464 641h1v1h-1zM465 640h1v1h-1zM466 639h1v1h-1zM467 638h1v1h-1zM468 637h1v1h-1zM469 636h1v1h-1zM470 635h1v1h-1zM471 634h1v1h-1zM472 633h1v1h-1zM473 632h1v1h-1zM474 633h1v1h-1zM475 634h1v1h-1zM476 635h1v2h-1zM477 637h1v1h-1zM478 638h1v1h-1zM479 639h1v2h-1zM480 641h1v1h-1zM481 642h1v1h-1zM482 641h3v1h-3zM485 640h2v1h-2zM487 639h2v1h-2zM489 638h5v1h-5zM494 637h14v1h-14zM508 636h6v1h-6zM514 637h1v1h-1zM515 638h1v1h-1zM516 639h1v1h-1zM517 640h1v1h-1zM518 641h1v1h-1zM519 642h1v1h-1zM520 643h1v1h-1zM521 644h1v1h-1zM522 643h3v1h-3zM525 642h3v1h-3zM528 641h3v1h-3zM531 642h3v1h-3zM534 643h3v1h-3zM537 644h1v1h-1zM538 645h2v1h-2zM540 646h1v1h-1zM541 647h2v1h-2zM543 648h1v1h-1zM544 649h1v1h-1zM545 650h1v1h-1zM546 649h1v1h-1zM547 648h2v1h-2zM549 647h2v1h-2zM551 646h2v1h-2zM553 645h3v1h-3zM556 644h2v1h-2zM558 643h2v1h-2zM560 642h3v1h-3zM563 643h2v1h-2zM565 644h2v1h-2zM567 645h3v1h-3zM570 646h3v1h-3zM573 647h3v1h-3zM576 648h2v1h-2zM578 649h1v1h-1zM579 650h1v2h-1zM580 652h1v1h-1zM581 653h1v1h-1zM582 654h1v1h-1zM583 655h1v2h-1zM584 657h1v1h-1zM585 658h1v1h-1zM586 659h1v2h-1zM587 661h1v1h-1zM588 662h1v1h-1zM589 663h1v2h-1zM590 665h1v1h-1zM591 666h1v1h-1zM592 667h1v2h-1zM593 669h1v1h-1zM594 668h1v1h-1zM595 667h2v1h-2zM597 666h1v1h-1zM598 665h1v1h-1zM599 664h2v1h-2zM601 663h2v1h-2zM603 664h4v1h-4zM607 665h7v1h-7zM614 664h4v1h-4zM618 663h2v1h-2zM620 662h2v1h-2zM622 661h2v1h-2zM624 660h5v1h-5zM629 659h12v1h-12zM641 659h1v2h-1zM642 661h1v2h-1zM643 663h1v1h-1zM644 664h1v2h-1zM645 666h1v2h-1zM646 668h1v2h-1zM647 670h1v2h-1zM648 672h1v2h-1zM649 674h1v1h-1zM650 673h1v1h-1zM651 672h2v1h-2zM653 671h1v1h-1zM654 670h1v1h-1zM655 669h2v1h-2zM657 668h1v1h-1zM658 667h1v1h-1zM659 666h1v1h-1zM660 665h1v1h-1zM661 664h1v1h-1zM662 663h1v1h-1zM663 662h1v1h-1zM664 661h1v1h-1zM665 660h1v1h-1zM666 661h1v1h-1zM667 662h1v1h-1zM668 663h1v1h-1zM669 664h1v1h-1zM670 665h1v1h-1zM671 666h1v1h-1zM672 667h1v1h-1zM673 668h2v1h-2zM675 669h3v1h-3zM678 670h3v1h-3zM681 671h4v1h-4zM685 672h4v1h-4zM689 673h2v1h-2zM691 674h2v1h-2zM693 675h2v1h-2zM695 676h2v1h-2zM697 677h5v1h-5zM702 678h7v1h-7zM709 677h6v1h-6zM715 676h5v1h-5zM720 675h2v1h-2zM722 676h2v1h-2zM724 677h2v1h-2zM726 678h1v1h-1zM727 679h2v1h-2zM729 680h1v1h-1zM730 681h2v1h-2zM732 682h1v1h-1zM733 683h1v1h-1zM734 684h1v1h-1zM735 685h1v1h-1zM736 686h1v1h-1zM737 686h1v2h-1zM738 684h1v2h-1zM739 682h1v2h-1zM740 680h1v2h-1zM741 678h1v2h-1zM742 676h1v2h-1zM743 674h1v2h-1zM744 672h1v2h-1zM745 671h2v1h-2zM747 672h2v1h-2zM749 673h2v1h-2zM751 674h2v1h-2zM753 675h3v1h-3zM756 676h3v1h-3zM759 677h4v1h-4zM763 676h2v1h-2zM765 675h2v1h-2zM767 674h3v1h-3zM770 673h4v1h-4zM774 672h4v1h-4zM778 671h1v1h-1zM779 670h1v1h-1zM780 669h1v1h-1zM781 668h1v1h-1zM782 667h1v1h-1zM783 666h1v1h-1zM784 665h2v1h-2zM786 664h1v1h-1zM787 663h2v1h-2zM789 662h2v1h-2zM791 661h1v1h-1zM792 660h2v1h-2zM794 659h1v1h-1zM795 658h2v1h-2zM797 657h1v1h-1zM798 656h1v1h-1zM799 655h2v1h-2zM801 654h1v1h-1zM802 653h1v1h-1zM803 652h1v1h-1zM804 651h1v1h-1zM805 650h1v1h-1zM806 649h1v1h-1zM807 648h1v1h-1zM808 647h1v1h-1zM809 646h1v1h-1zM810 647h2v1h-2zM812 648h1v1h-1zM813 649h1v1h-1zM814 650h2v1h-2zM816 651h1v1h-1zM817 652h5v1h-5zM822 653h8v1h-8zM830 654h5v1h-5zM835 655h2v1h-2zM837 656h2v1h-2zM839 657h2v1h-2zM841 658h5v1h-5zM846 659h5v1h-5zM851 658h4v1h-4zM855 657h7v1h-7zM862 658h4v1h-4zM866 659h1v1h-1zM867 660h1v1h-1zM868 661h1v1h-1zM869 662h1v1h-1zM870 663h1v1h-1zM871 664h1v1h-1zM872 665h1v1h-1zM873 666h1v1h-1zM874 667h1v1h-1zM875 668h1v1h-1zM876 669h1v1h-1zM877 670h1v1h-1zM878 671h1v2h-1zM879 673h1v1h-1zM880 674h1v1h-1zM881 675h1v1h-1zM882 674h2v1h-2zM884 673h2v1h-2zM886 672h2v1h-2zM888 671h9v1h-9zM897 672h6v1h-6zM903 673h3v1h-3zM906 672h2v1h-2zM908 671h2v1h-2zM910 670h1v1h-1zM911 669h2v1h-2zM913 668h2v1h-2zM915 669h3v1h-3zM918 670h3v1h-3zM921 671h8v1h-8zM929 672h3v1h-3zM932 673h4v1h-4zM936 674h2v1h-2zM938 673h2v1h-2zM940 672h2v1h-2zM942 671h1v1h-1zM943 670h2v1h-2zM945 669h2v1h-2zM947 670h4v1h-4zM951 671h3v1h-3zM954 669h1v2h-1zM955 668h1v1h-1zM956 666h1v2h-1zM957 665h1v1h-1zM958 663h1v2h-1zM959 662h1v1h-1zM960 661h1v1h-1zM961 660h1v1h-1zM962 659h1v1h-1zM963 658h2v1h-2zM965 657h2v1h-2zM967 656h1v1h-1zM968 655h6v1h-6zM974 656h8v1h-8zM982 657h5v1h-5zM987 658h3v1h-3zM990 659h2v1h-2zM992 660h2v1h-2zM994 661h1v1h-1zM995 662h1v1h-1zM996 663h1v1h-1zM997 664h1v2h-1zM998 666h1v1h-1zM999 667h1v1h-1zM1000 668h1v1h-1zM1001 669h11v1h-11zM1012 668h4v1h-4zM1016 667h3v1h-3zM1019 668h4v1h-4zM1023 669h2v1h-2zM1025 668h1v2h-1zM1026 666h1v2h-1zM1027 664h1v2h-1zM1028 661h1v3h-1zM1029 659h1v2h-1zM1030 657h1v2h-1zM1031 655h1v2h-1zM1032 653h1v2h-1zM1033 652h1v1h-1zM1034 651h1v1h-1zM1035 650h2v1h-2zM1037 649h2v1h-2zM1039 648h1v1h-1zM1040 647h3v1h-3zM1043 646h2v1h-2zM1045 645h3v1h-3zM1048 644h7v1h-7zM1055 645h3v1h-3zM1058 644h1v1h-1zM1059 643h1v1h-1zM1060 642h1v1h-1zM1061 641h1v1h-1zM1062 640h2v1h-2zM1064 639h1v1h-1zM1065 638h1v1h-1zM1066 639h1v1h-1zM1067 640h2v1h-2zM1069 641h1v1h-1zM1070 642h1v1h-1zM1071 643h1v1h-1zM1072 644h1v1h-1zM1073 645h3v1h-3zM1076 644h6v1h-6zM1082 645h2v1h-2zM1084 646h1v1h-1zM1085 647h1v1h-1zM1086 648h2v1h-2zM1088 649h1v1h-1zM1089 650h2v1h-2zM1091 651h3v1h-3zM1094 652h2v1h-2zM1096 653h2v1h-2zM1098 652h2v1h-2zM1100 651h2v1h-2zM1102 650h2v1h-2zM1104 649h2v1h-2zM1106 648h2v1h-2zM1108 647h2v1h-2zM1110 646h2v1h-2zM1112 645h1v1h-1zM1113 645h1v2h-1zM1114 647h1v1h-1zM1115 648h1v2h-1zM1116 650h1v2h-1zM1117 652h1v1h-1zM1118 653h1v2h-1zM1119 655h1v2h-1zM1120 657h1v2h-1zM1121 659h1v1h-1zM1122 660h1v1h-1zM1123 661h1v1h-1zM1124 662h1v2h-1zM1125 664h1v1h-1zM1126 665h1v1h-1zM1127 666h1v2h-1zM1128 668h1v1h-1zM1129 669h1v1h-1zM1130 670h2v1h-2zM1132 671h1v1h-1zM1133 672h2v1h-2zM1135 673h2v1h-2zM1137 674h2v1h-2zM1139 675h3v1h-3zM1142 676h3v1h-3zM1145 677h2v1h-2zM1147 676h5v1h-5zM1152 675h6v1h-6zM1158 674h15v1h-15zM1173 675h15v1h-15zM1188 674h4v1h-4zM1192 673h2v1h-2zM1194 674h2v1h-2zM1196 675h1v1h-1zM1197 676h1v1h-1zM1198 677h2v1h-2zM1200 678h1v1h-1zM1201 678h1v2h-1zM1202 677h1v1h-1zM1203 675h1v2h-1zM1204 674h1v1h-1zM1205 672h1v2h-1zM1206 671h1v1h-1zM1207 669h1v2h-1zM1208 668h1v1h-1zM1209 667h2v1h-2zM1211 668h4v1h-4zM1215 669h3v1h-3zM1218 668h1v1h-1zM1219 667h1v1h-1zM1220 666h1v1h-1zM1221 665h1v1h-1zM1222 664h1v1h-1zM1223 663h1v1h-1zM1224 662h1v1h-1zM1225 661h1v1h-1zM1226 660h1v1h-1zM1227 659h2v1h-2zM1229 658h2v1h-2zM1231 657h1v1h-1zM1232 656h2v1h-2zM1234 657h1v1h-1zM1235 658h1v1h-1zM1236 659h1v1h-1zM1237 660h1v1h-1zM1238 661h1v1h-1zM1239 662h1v1h-1zM1240 663h1v1h-1zM1241 664h2v1h-2zM1243 665h1v1h-1zM1244 666h1v1h-1zM1245 667h2v1h-2zM1247 668h1v1h-1zM1248 669h1v1h-1zM1249 670h2v1h-2zM1251 671h2v1h-2zM1253 672h2v1h-2zM1255 673h1v1h-1zM1256 674h10v1h-10zM1266 675h1v1h-1zM1267 676h1v1h-1zM1268 677h1v1h-1zM1269 678h1v1h-1zM1270 679h1v1h-1zM1271 680h1v1h-1zM1272 681h1v1h-1zM1273 682h3v1h-3zM1276 683h3v1h-3zM1279 684h3v1h-3zM1282 683h2v1h-2zM1284 682h1v1h-1zM1285 681h1v1h-1zM1286 680h1v1h-1zM1287 679h2v1h-2zM1289 678h1v1h-1zM1290 677h2v1h-2zM1292 676h2v1h-2zM1294 675h3v1h-3zM1297 674h11v1h-11zM1308 673h4v1h-4zM1312 672h4v1h-4zM1316 671h4v1h-4zM1320 670h8v1h-8zM1328 671h5v1h-5zM1333 672h4v1h-4zM1337 673h3v1h-3zM1340 674h4v1h-4zM1344 675h2v1h-2z" fill="#1e90ff" shape-rendering="crispEdges"/>
<text x="13" y="617" font-size="12" fill="#000" textLength="92" lengthAdjust="spacingAndGlyphs">RSI(14) 42.8088</text>
<rect x="1679" y="602" width="2" height="1" fill="#000"/>
<text x="1682.5" y="615" font-size="12" fill="#000" textLength="20" lengthAdjust="spacingAndGlyphs">100</text>
<rect x="1679" y="640" width="2" height="1" fill="#000"/>
<text x="1682.5" y="645" font-size="12" fill="#000" textLength="13" lengthAdjust="spacingAndGlyphs">70</text>
<rect x="1679" y="691" width="2" height="1" fill="#000"/>
<text x="1682.5" y="696" font-size="12" fill="#000" textLength="13" lengthAdjust="spacingAndGlyphs">30</text>
<rect x="1679" y="728" width="1" height="1" fill="#000"/>
<text x="1682.5" y="726" font-size="12" fill="#000" textLength="6.5" lengthAdjust="spacingAndGlyphs">0</text>
<rect x="9" y="730" width="1" height="3" fill="#000"/>
<text x="8" y="745" font-size="12" fill="#000" textLength="64" lengthAdjust="spacingAndGlyphs">26 Jul 2019</text>
<rect x="105" y="730" width="1" height="3" fill="#000"/>
<text x="104" y="745" font-size="12" fill="#000" textLength="69" lengthAdjust="spacingAndGlyphs">5 Aug 01:30</text>
<rect x="201" y="730" width="1" height="3" fill="#000"/>
<text x="200" y="745" font-size="12" fill="#000" textLength="77" lengthAdjust="spacingAndGlyphs">13 Aug 01:30</text>
<rect x="297" y="730" width="1" height="3" fill="#000"/>
<text x="296" y="745" font-size="12" fill="#000" textLength="77" lengthAdjust="spacingAndGlyphs">21 Aug 01:30</text>
<rect x="393" y="730" width="1" height="3" fill="#000"/>
<text x="392" y="745" font-size="12" fill="#000" textLength="77" lengthAdjust="spacingAndGlyphs">29 Aug 01:30</text>
<rect x="489" y="730" width="1" height="3" fill="#000"/>
<text x="488" y="745" font-size="12" fill="#000" textLength="68.5" lengthAdjust="spacingAndGlyphs">6 Sep 01:30</text>
<rect x="585" y="730" width="1" height="3" fill="#000"/>
<text x="584" y="745" font-size="12" fill="#000" textLength="75.5" lengthAdjust="spacingAndGlyphs">17 Sep 01:30</text>
<rect x="681" y="730" width="1" height="3" fill="#000"/>
<text x="680" y="745" font-size="12" fill="#000" textLength="75.5" lengthAdjust="spacingAndGlyphs">25 Sep 01:30</text>
<rect x="777" y="730" width="1" height="3" fill="#000"/>
<text x="776" y="745" font-size="12" fill="#000" textLength="75" lengthAdjust="spacingAndGlyphs">10 Oct 01:30</text>
<rect x="873" y="730" width="1" height="3" fill="#000"/>
<text x="872" y="745" font-size="12" fill="#000" textLength="75" lengthAdjust="spacingAndGlyphs">18 Oct 01:30</text>
<rect x="969" y="730" width="1" height="3" fill="#000"/>
<text x="968" y="745" font-size="12" fill="#000" textLength="75" lengthAdjust="spacingAndGlyphs">28 Oct 01:30</text>
<rect x="1065" y="730" width="1" height="3" fill="#000"/>
<text x="1064" y="745" font-size="12" fill="#000" textLength="68.5" lengthAdjust="spacingAndGlyphs">5 Nov 01:30</text>
<rect x="1161" y="730" width="1" height="3" fill="#000"/>
<text x="1160" y="745" font-size="12" fill="#000" textLength="76.7" lengthAdjust="spacingAndGlyphs">13 Nov 01:30</text>
<rect x="1257" y="730" width="1" height="3" fill="#000"/>
<text x="1256" y="745" font-size="12" fill="#000" textLength="76.7" lengthAdjust="spacingAndGlyphs">21 Nov 01:30</text>
</svg>
</body></html>
